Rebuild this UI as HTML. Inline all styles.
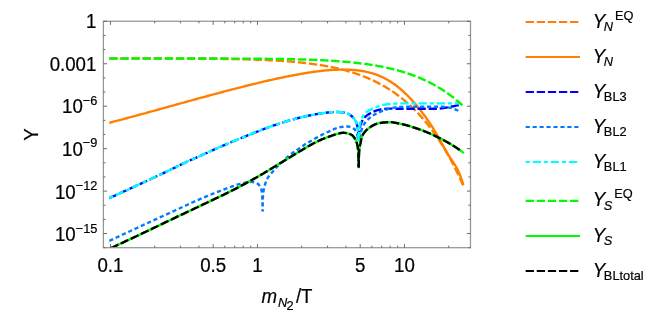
<!DOCTYPE html>
<html><head><meta charset="utf-8"><title>Y vs m_N2/T</title>
<style>html,body{margin:0;padding:0;background:#fff}body{width:654px;height:314px;position:relative;overflow:hidden}</style>
</head><body>
<svg width="654" height="314" viewBox="0 0 654 314" style="position:absolute;left:0;top:0;will-change:transform">
<defs><clipPath id="cp"><rect x="103.5" y="21.3" width="367" height="226.4"/></clipPath></defs>
<g clip-path="url(#cp)" fill="none" stroke-width="2.4" stroke-linejoin="bevel" stroke-linecap="square">
<path d="M110.45,58.47 L111.45,58.47 L112.45,58.47 L113.45,58.47 L114.45,58.47 L115.45,58.47 L116.45,58.47 L117.45,58.47 L118.45,58.47 L119.45,58.47 L120.45,58.47 L121.45,58.47 L122.45,58.47 L123.45,58.47 L124.45,58.47 L125.45,58.47 L126.45,58.48 L127.45,58.48 L128.45,58.48 L129.45,58.48 L130.45,58.48 L131.45,58.48 L132.45,58.48 L133.45,58.48 L134.45,58.48 L135.45,58.48 L136.45,58.48 L137.45,58.49 L138.45,58.49 L139.45,58.49 L140.45,58.49 L141.45,58.49 L142.45,58.49 L143.45,58.49 L144.45,58.49 L145.45,58.50 L146.45,58.50 L147.45,58.50 L148.45,58.50 L149.45,58.50 L150.45,58.50 L151.45,58.50 L152.45,58.51 L153.45,58.51 L154.45,58.51 L155.45,58.51 L156.45,58.51 L157.45,58.52 L158.45,58.52 L159.45,58.52 L160.45,58.52 L161.45,58.52 L162.45,58.53 L163.45,58.53 L164.45,58.53 L165.45,58.53 L166.45,58.54 L167.45,58.54 L168.45,58.54 L169.45,58.54 L170.45,58.55 L171.45,58.55 L172.45,58.55 L173.45,58.56 L174.45,58.56 L175.45,58.56 L176.45,58.57 L177.45,58.57 L178.45,58.57 L179.45,58.58 L180.45,58.58 L181.45,58.59 L182.45,58.59 L183.45,58.60 L184.45,58.60 L185.45,58.60 L186.45,58.61 L187.45,58.61 L188.45,58.62 L189.45,58.62 L190.45,58.63 L191.45,58.64 L192.45,58.64 L193.45,58.65 L194.45,58.65 L195.45,58.66 L196.45,58.67 L197.45,58.67 L198.45,58.68 L199.45,58.69 L200.45,58.69 L201.45,58.70 L202.45,58.71 L203.45,58.72 L204.45,58.72 L205.45,58.73 L206.45,58.74 L207.45,58.75 L208.45,58.76 L209.45,58.77 L210.45,58.78 L211.45,58.79 L212.45,58.80 L213.45,58.81 L214.45,58.82 L215.45,58.83 L216.45,58.84 L217.45,58.85 L218.45,58.87 L219.45,58.88 L220.45,58.89 L221.45,58.90 L222.45,58.92 L223.45,58.93 L224.45,58.95 L225.45,58.96 L226.45,58.98 L227.45,58.99 L228.45,59.01 L229.45,59.02 L230.45,59.04 L231.45,59.06 L232.45,59.08 L233.45,59.09 L234.45,59.11 L235.45,59.13 L236.45,59.15 L237.45,59.17 L238.45,59.19 L239.45,59.22 L240.45,59.24 L241.45,59.26 L242.45,59.29 L243.45,59.31 L244.45,59.33 L245.45,59.36 L246.45,59.39 L247.45,59.41 L248.45,59.44 L249.45,59.47 L250.45,59.50 L251.45,59.53 L252.45,59.56 L253.45,59.59 L254.45,59.62 L255.45,59.66 L256.45,59.69 L257.45,59.73 L258.45,59.76 L259.45,59.80 L260.45,59.84 L261.45,59.88 L262.45,59.92 L263.45,59.96 L264.45,60.00 L265.45,60.04 L266.45,60.09 L267.45,60.13 L268.45,60.18 L269.45,60.23 L270.45,60.28 L271.45,60.33 L272.45,60.38 L273.45,60.43 L274.45,60.49 L275.45,60.54 L276.45,60.60 L277.45,60.66 L278.45,60.72 L279.45,60.78 L280.45,60.84 L281.45,60.91 L282.45,60.97 L283.45,61.04 L284.45,61.11 L285.45,61.18 L286.45,61.26 L287.45,61.33 L288.45,61.41 L289.45,61.49 L290.45,61.57 L291.45,61.65 L292.45,61.73 L293.45,61.82 L294.45,61.91 L295.45,62.00 L296.45,62.09 L297.45,62.19 L298.45,62.29 L299.45,62.39 L300.45,62.49 L301.45,62.59 L302.45,62.70 L303.45,62.81 L304.45,62.92 L305.45,63.03 L306.45,63.15 L307.45,63.27 L308.45,63.39 L309.45,63.52 L310.45,63.65 L311.45,63.78 L312.45,63.91 L313.45,64.05 L314.45,64.19 L315.45,64.33 L316.45,64.48 L317.45,64.63 L318.45,64.78 L319.45,64.94 L320.45,65.10 L321.45,65.26 L322.45,65.43 L323.45,65.60 L324.45,65.77 L325.45,65.95 L326.45,66.13 L327.45,66.32 L328.45,66.51 L329.45,66.70 L330.45,66.90 L331.45,67.10 L332.45,67.31 L333.45,67.52 L334.45,67.74 L335.45,67.96 L336.45,68.18 L337.45,68.41 L338.45,68.65 L339.45,68.88 L340.45,69.13 L341.45,69.38 L342.45,69.63 L343.45,69.89 L344.45,70.16 L345.45,70.43 L346.45,70.71 L347.45,70.99 L348.45,71.27 L349.45,71.57 L350.45,71.87 L351.45,72.17 L352.45,72.48 L353.45,72.80 L354.45,73.13 L355.45,73.46 L356.45,73.79 L357.45,74.14 L358.45,74.49 L359.45,74.85 L360.45,75.21 L361.45,75.58 L362.45,75.96 L363.45,76.35 L364.45,76.75 L365.45,77.15 L366.45,77.56 L367.45,77.97 L368.45,78.40 L369.45,78.84 L370.45,79.28 L371.45,79.73 L372.45,80.19 L373.45,80.66 L374.45,81.13 L375.45,81.62 L376.45,82.12 L377.45,82.62 L378.45,83.14 L379.45,83.66 L380.45,84.20 L381.45,84.74 L382.45,85.29 L383.45,85.86 L384.45,86.44 L385.45,87.02 L386.45,87.62 L387.45,88.23 L388.45,88.85 L389.45,89.48 L390.45,90.12 L391.45,90.77 L392.45,91.44 L393.45,92.12 L394.45,92.81 L395.45,93.52 L396.45,94.23 L397.45,94.96 L398.45,95.70 L399.45,96.46 L400.45,97.23 L401.45,98.01 L402.45,98.81 L403.45,99.63 L404.45,100.45 L405.45,101.29 L406.45,102.15 L407.45,103.02 L408.45,103.91 L409.45,104.82 L410.45,105.74 L411.45,106.67 L412.45,107.63 L413.45,108.60 L414.45,109.58 L415.45,110.59 L416.45,111.61 L417.45,112.65 L418.45,113.71 L419.45,114.78 L420.45,115.88 L421.45,116.99 L422.45,118.13 L423.45,119.28 L424.45,120.46 L425.45,121.65 L426.45,122.87 L427.45,124.11 L428.45,125.36 L429.45,126.64 L430.45,127.95 L431.45,129.27 L432.45,130.62 L433.45,131.99 L434.45,133.38 L435.45,134.80 L436.45,136.24 L437.45,137.71 L438.45,139.20 L439.45,140.72 L440.45,142.27 L441.45,143.84 L442.45,145.43 L443.45,147.06 L444.45,148.71 L445.45,150.39 L446.45,152.10 L447.45,153.84 L448.45,155.60 L449.45,157.40 L450.45,159.23 L451.45,161.08 L452.45,162.97 L453.45,164.90 L454.45,166.85 L455.45,168.84 L456.45,170.86 L457.45,172.91 L458.45,175.00 L459.45,177.12 L460.45,179.28 L461.45,181.48 L462.45,183.71 L462.95,184.83" stroke="#ff8000" stroke-dasharray="5.9 5.2"/>
<path d="M110.45,122.50 L111.45,122.24 L112.45,121.98 L113.45,121.71 L114.45,121.45 L115.45,121.18 L116.45,120.92 L117.45,120.65 L118.45,120.39 L119.45,120.12 L120.45,119.85 L121.45,119.59 L122.45,119.32 L123.45,119.05 L124.45,118.78 L125.45,118.52 L126.45,118.25 L127.45,117.98 L128.45,117.71 L129.45,117.44 L130.45,117.17 L131.45,116.90 L132.45,116.62 L133.45,116.35 L134.45,116.08 L135.45,115.81 L136.45,115.54 L137.45,115.27 L138.45,114.99 L139.45,114.72 L140.45,114.45 L141.45,114.17 L142.45,113.90 L143.45,113.63 L144.45,113.35 L145.45,113.08 L146.45,112.80 L147.45,112.53 L148.45,112.25 L149.45,111.98 L150.45,111.70 L151.45,111.43 L152.45,111.15 L153.45,110.88 L154.45,110.60 L155.45,110.32 L156.45,110.05 L157.45,109.77 L158.45,109.50 L159.45,109.22 L160.45,108.94 L161.45,108.67 L162.45,108.39 L163.45,108.11 L164.45,107.84 L165.45,107.56 L166.45,107.28 L167.45,107.01 L168.45,106.73 L169.45,106.45 L170.45,106.18 L171.45,105.90 L172.45,105.62 L173.45,105.35 L174.45,105.07 L175.45,104.79 L176.45,104.52 L177.45,104.24 L178.45,103.96 L179.45,103.69 L180.45,103.41 L181.45,103.14 L182.45,102.86 L183.45,102.58 L184.45,102.31 L185.45,102.03 L186.45,101.76 L187.45,101.48 L188.45,101.21 L189.45,100.93 L190.45,100.66 L191.45,100.38 L192.45,100.11 L193.45,99.83 L194.45,99.56 L195.45,99.28 L196.45,99.01 L197.45,98.74 L198.45,98.46 L199.45,98.19 L200.45,97.92 L201.45,97.64 L202.45,97.37 L203.45,97.10 L204.45,96.83 L205.45,96.56 L206.45,96.28 L207.45,96.01 L208.45,95.74 L209.45,95.47 L210.45,95.20 L211.45,94.93 L212.45,94.66 L213.45,94.40 L214.45,94.13 L215.45,93.86 L216.45,93.59 L217.45,93.32 L218.45,93.06 L219.45,92.79 L220.45,92.52 L221.45,92.26 L222.45,91.99 L223.45,91.73 L224.45,91.46 L225.45,91.20 L226.45,90.93 L227.45,90.67 L228.45,90.41 L229.45,90.15 L230.45,89.88 L231.45,89.62 L232.45,89.36 L233.45,89.10 L234.45,88.84 L235.45,88.58 L236.45,88.33 L237.45,88.07 L238.45,87.81 L239.45,87.55 L240.45,87.30 L241.45,87.04 L242.45,86.79 L243.45,86.54 L244.45,86.28 L245.45,86.03 L246.45,85.78 L247.45,85.53 L248.45,85.28 L249.45,85.03 L250.45,84.78 L251.45,84.54 L252.45,84.29 L253.45,84.05 L254.45,83.80 L255.45,83.56 L256.45,83.32 L257.45,83.08 L258.45,82.84 L259.45,82.60 L260.45,82.36 L261.45,82.12 L262.45,81.89 L263.45,81.65 L264.45,81.42 L265.45,81.19 L266.45,80.96 L267.45,80.73 L268.45,80.50 L269.45,80.27 L270.45,80.05 L271.45,79.82 L272.45,79.60 L273.45,79.38 L274.45,79.16 L275.45,78.94 L276.45,78.72 L277.45,78.50 L278.45,78.29 L279.45,78.08 L280.45,77.86 L281.45,77.65 L282.45,77.45 L283.45,77.24 L284.45,77.03 L285.45,76.83 L286.45,76.63 L287.45,76.43 L288.45,76.23 L289.45,76.03 L290.45,75.83 L291.45,75.64 L292.45,75.45 L293.45,75.26 L294.45,75.07 L295.45,74.88 L296.45,74.70 L297.45,74.51 L298.45,74.33 L299.45,74.15 L300.45,73.98 L301.45,73.80 L302.45,73.63 L303.45,73.46 L304.45,73.29 L305.45,73.12 L306.45,72.96 L307.45,72.80 L308.45,72.64 L309.45,72.48 L310.45,72.33 L311.45,72.18 L312.45,72.03 L313.45,71.89 L314.45,71.75 L315.45,71.61 L316.45,71.48 L317.45,71.35 L318.45,71.22 L319.45,71.10 L320.45,70.98 L321.45,70.87 L322.45,70.76 L323.45,70.65 L324.45,70.55 L325.45,70.45 L326.45,70.36 L327.45,70.27 L328.45,70.19 L329.45,70.11 L330.45,70.04 L331.45,69.97 L332.45,69.91 L333.45,69.85 L334.45,69.80 L335.45,69.75 L336.45,69.71 L337.45,69.68 L338.45,69.65 L339.45,69.63 L340.45,69.61 L341.45,69.60 L342.45,69.59 L343.45,69.60 L344.45,69.60 L345.45,69.62 L346.45,69.64 L347.45,69.67 L348.45,69.71 L349.45,69.75 L350.45,69.80 L351.45,69.85 L352.45,69.92 L353.45,69.99 L354.45,70.07 L355.45,70.16 L356.45,70.26 L357.45,70.37 L358.45,70.49 L359.45,70.62 L360.45,70.76 L361.45,70.91 L362.45,71.07 L363.45,71.24 L364.45,71.43 L365.45,71.62 L366.45,71.83 L367.45,72.06 L368.45,72.29 L369.45,72.54 L370.45,72.81 L371.45,73.09 L372.45,73.38 L373.45,73.69 L374.45,74.01 L375.45,74.35 L376.45,74.71 L377.45,75.08 L378.45,75.47 L379.45,75.88 L380.45,76.31 L381.45,76.75 L382.45,77.21 L383.45,77.69 L384.45,78.19 L385.45,78.71 L386.45,79.25 L387.45,79.81 L388.45,80.39 L389.45,80.99 L390.45,81.61 L391.45,82.26 L392.45,82.92 L393.45,83.61 L394.45,84.32 L395.45,85.05 L396.45,85.80 L397.45,86.57 L398.45,87.36 L399.45,88.18 L400.45,89.02 L401.45,89.87 L402.45,90.75 L403.45,91.66 L404.45,92.58 L405.45,93.52 L406.45,94.49 L407.45,95.48 L408.45,96.48 L409.45,97.52 L410.45,98.57 L411.45,99.64 L412.45,100.74 L413.45,101.85 L414.45,102.99 L415.45,104.15 L416.45,105.33 L417.45,106.53 L418.45,107.76 L419.45,109.00 L420.45,110.27 L421.45,111.55 L422.45,112.86 L423.45,114.18 L424.45,115.53 L425.45,116.90 L426.45,118.28 L427.45,119.70 L428.45,121.13 L429.45,122.60 L430.45,124.10 L431.45,125.64 L432.45,127.22 L433.45,128.84 L434.45,130.50 L435.45,132.20 L436.45,133.93 L437.45,135.69 L438.45,137.47 L439.45,139.26 L440.45,141.06 L441.45,142.87 L442.45,144.66 L443.45,146.45 L444.45,148.22 L445.45,149.96 L446.45,151.67 L447.45,153.35 L448.45,154.99 L449.45,156.57 L450.45,158.10 L451.45,159.59 L452.45,161.06 L453.45,162.56 L454.45,164.10 L455.45,165.73 L456.45,167.48 L457.45,169.37 L458.45,171.45 L459.45,173.74 L460.45,176.28 L461.45,179.09 L462.45,182.21 L462.95,183.90" stroke="#ff8000"/>
<path d="M110.45,197.60 L110.95,197.37 L111.45,197.15 L111.95,196.92 L112.45,196.69 L112.95,196.47 L113.45,196.24 L113.95,196.01 L114.45,195.79 L114.95,195.56 L115.45,195.33 L115.95,195.11 L116.45,194.88 L116.95,194.65 L117.45,194.42 L117.95,194.20 L118.45,193.97 L118.95,193.74 L119.45,193.51 L119.95,193.28 L120.45,193.06 L120.95,192.83 L121.45,192.60 L121.95,192.37 L122.45,192.14 L122.95,191.91 L123.45,191.68 L123.95,191.45 L124.45,191.23 L124.95,191.00 L125.45,190.77 L125.95,190.54 L126.45,190.31 L126.95,190.08 L127.45,189.85 L127.95,189.62 L128.45,189.39 L128.95,189.16 L129.45,188.93 L129.95,188.70 L130.45,188.47 L130.95,188.24 L131.45,188.01 L131.95,187.78 L132.45,187.55 L132.95,187.32 L133.45,187.09 L133.95,186.85 L134.45,186.62 L134.95,186.39 L135.45,186.16 L135.95,185.93 L136.45,185.70 L136.95,185.47 L137.45,185.24 L137.95,185.00 L138.45,184.77 L138.95,184.54 L139.45,184.31 L139.95,184.08 L140.45,183.85 L140.95,183.61 L141.45,183.38 L141.95,183.15 L142.45,182.92 L142.95,182.68 L143.45,182.45 L143.95,182.22 L144.45,181.99 L144.95,181.75 L145.45,181.52 L145.95,181.29 L146.45,181.05 L146.95,180.82 L147.45,180.59 L147.95,180.35 L148.45,180.12 L148.95,179.89 L149.45,179.65 L149.95,179.42 L150.45,179.19 L150.95,178.95 L151.45,178.72 L151.95,178.49 L152.45,178.25 L152.95,178.02 L153.45,177.78 L153.95,177.55 L154.45,177.32 L154.95,177.08 L155.45,176.85 L155.95,176.61 L156.45,176.38 L156.95,176.14 L157.45,175.91 L157.95,175.67 L158.45,175.44 L158.95,175.20 L159.45,174.97 L159.95,174.73 L160.45,174.50 L160.95,174.26 L161.45,174.03 L161.95,173.79 L162.45,173.56 L162.95,173.32 L163.45,173.09 L163.95,172.85 L164.45,172.61 L164.95,172.38 L165.45,172.14 L165.95,171.90 L166.45,171.66 L166.95,171.42 L167.45,171.18 L167.95,170.94 L168.45,170.70 L168.95,170.46 L169.45,170.22 L169.95,169.98 L170.45,169.73 L170.95,169.49 L171.45,169.25 L171.95,169.01 L172.45,168.76 L172.95,168.52 L173.45,168.28 L173.95,168.04 L174.45,167.79 L174.95,167.55 L175.45,167.31 L175.95,167.06 L176.45,166.82 L176.95,166.58 L177.45,166.34 L177.95,166.09 L178.45,165.85 L178.95,165.61 L179.45,165.37 L179.95,165.13 L180.45,164.89 L180.95,164.65 L181.45,164.41 L181.95,164.17 L182.45,163.93 L182.95,163.69 L183.45,163.45 L183.95,163.22 L184.45,162.98 L184.95,162.74 L185.45,162.51 L185.95,162.27 L186.45,162.04 L186.95,161.81 L187.45,161.57 L187.95,161.34 L188.45,161.11 L188.95,160.88 L189.45,160.65 L189.95,160.42 L190.45,160.20 L190.95,159.97 L191.45,159.75 L191.95,159.53 L192.45,159.30 L192.95,159.08 L193.45,158.87 L193.95,158.65 L194.45,158.43 L194.95,158.21 L195.45,158.00 L195.95,157.78 L196.45,157.56 L196.95,157.34 L197.45,157.13 L197.95,156.91 L198.45,156.69 L198.95,156.47 L199.45,156.25 L199.95,156.02 L200.45,155.80 L200.95,155.57 L201.45,155.34 L201.95,155.12 L202.45,154.89 L202.95,154.66 L203.45,154.43 L203.95,154.20 L204.45,153.97 L204.95,153.74 L205.45,153.50 L205.95,153.27 L206.45,153.04 L206.95,152.81 L207.45,152.58 L207.95,152.35 L208.45,152.12 L208.95,151.89 L209.45,151.66 L209.95,151.43 L210.45,151.20 L210.95,150.97 L211.45,150.75 L211.95,150.52 L212.45,150.30 L212.95,150.07 L213.45,149.85 L213.95,149.63 L214.45,149.41 L214.95,149.18 L215.45,148.96 L215.95,148.74 L216.45,148.52 L216.95,148.30 L217.45,148.08 L217.95,147.86 L218.45,147.64 L218.95,147.42 L219.45,147.20 L219.95,146.98 L220.45,146.76 L220.95,146.54 L221.45,146.33 L221.95,146.11 L222.45,145.89 L222.95,145.68 L223.45,145.46 L223.95,145.25 L224.45,145.03 L224.95,144.82 L225.45,144.61 L225.95,144.40 L226.45,144.18 L226.95,143.97 L227.45,143.76 L227.95,143.55 L228.45,143.34 L228.95,143.12 L229.45,142.91 L229.95,142.70 L230.45,142.49 L230.95,142.28 L231.45,142.07 L231.95,141.86 L232.45,141.65 L232.95,141.44 L233.45,141.23 L233.95,141.03 L234.45,140.82 L234.95,140.61 L235.45,140.40 L235.95,140.19 L236.45,139.99 L236.95,139.78 L237.45,139.57 L237.95,139.37 L238.45,139.16 L238.95,138.96 L239.45,138.75 L239.95,138.55 L240.45,138.34 L240.95,138.14 L241.45,137.93 L241.95,137.73 L242.45,137.53 L242.95,137.32 L243.45,137.12 L243.95,136.92 L244.45,136.72 L244.95,136.52 L245.45,136.31 L245.95,136.11 L246.45,135.91 L246.95,135.71 L247.45,135.51 L247.95,135.31 L248.45,135.11 L248.95,134.92 L249.45,134.72 L249.95,134.52 L250.45,134.32 L250.95,134.12 L251.45,133.93 L251.95,133.73 L252.45,133.53 L252.95,133.33 L253.45,133.13 L253.95,132.93 L254.45,132.73 L254.95,132.53 L255.45,132.33 L255.95,132.14 L256.45,131.94 L256.95,131.74 L257.45,131.54 L257.95,131.34 L258.45,131.14 L258.95,130.95 L259.45,130.75 L259.95,130.55 L260.45,130.35 L260.95,130.16 L261.45,129.96 L261.95,129.77 L262.45,129.57 L262.95,129.38 L263.45,129.19 L263.95,128.99 L264.45,128.80 L264.95,128.61 L265.45,128.42 L265.95,128.23 L266.45,128.04 L266.95,127.86 L267.45,127.67 L267.95,127.49 L268.45,127.30 L268.95,127.12 L269.45,126.94 L269.95,126.75 L270.45,126.57 L270.95,126.40 L271.45,126.22 L271.95,126.04 L272.45,125.87 L272.95,125.70 L273.45,125.52 L273.95,125.35 L274.45,125.18 L274.95,125.02 L275.45,124.85 L275.95,124.68 L276.45,124.52 L276.95,124.35 L277.45,124.19 L277.95,124.02 L278.45,123.86 L278.95,123.70 L279.45,123.53 L279.95,123.37 L280.45,123.21 L280.95,123.05 L281.45,122.89 L281.95,122.73 L282.45,122.57 L282.95,122.41 L283.45,122.25 L283.95,122.09 L284.45,121.94 L284.95,121.78 L285.45,121.63 L285.95,121.47 L286.45,121.32 L286.95,121.17 L287.45,121.02 L287.95,120.87 L288.45,120.72 L288.95,120.57 L289.45,120.42 L289.95,120.27 L290.45,120.13 L290.95,119.98 L291.45,119.84 L291.95,119.70 L292.45,119.56 L292.95,119.42 L293.45,119.28 L293.95,119.14 L294.45,119.01 L294.95,118.88 L295.45,118.74 L295.95,118.61 L296.45,118.48 L296.95,118.35 L297.45,118.22 L297.95,118.10 L298.45,117.98 L298.95,117.85 L299.45,117.73 L299.95,117.61 L300.45,117.49 L300.95,117.38 L301.45,117.26 L301.95,117.14 L302.45,117.03 L302.95,116.91 L303.45,116.80 L303.95,116.69 L304.45,116.57 L304.95,116.46 L305.45,116.35 L305.95,116.24 L306.45,116.14 L306.95,116.03 L307.45,115.92 L307.95,115.82 L308.45,115.71 L308.95,115.61 L309.45,115.50 L309.95,115.40 L310.45,115.30 L310.95,115.20 L311.45,115.10 L311.95,115.01 L312.45,114.91 L312.95,114.81 L313.45,114.72 L313.95,114.63 L314.45,114.54 L314.95,114.44 L315.45,114.36 L315.95,114.27 L316.45,114.18 L316.95,114.09 L317.45,114.01 L317.95,113.93 L318.45,113.85 L318.95,113.76 L319.45,113.69 L319.95,113.61 L320.45,113.53 L320.95,113.45 L321.45,113.37 L321.95,113.30 L322.45,113.22 L322.95,113.14 L323.45,113.06 L323.95,112.99 L324.45,112.91 L324.95,112.84 L325.45,112.77 L325.95,112.71 L326.45,112.64 L326.95,112.58 L327.45,112.52 L327.95,112.47 L328.45,112.42 L328.95,112.38 L329.45,112.34 L329.95,112.30 L330.45,112.27 L330.95,112.24 L331.45,112.21 L331.95,112.18 L332.45,112.15 L332.95,112.12 L333.45,112.10 L333.95,112.07 L334.45,112.05 L334.95,112.04 L335.45,112.02 L335.95,112.01 L336.45,112.00 L336.95,112.00 L337.45,112.00 L337.95,112.01 L338.45,112.03 L338.95,112.05 L339.45,112.08 L339.95,112.11 L340.45,112.15 L340.95,112.19 L341.45,112.24 L341.95,112.29 L342.45,112.34 L342.95,112.39 L343.45,112.46 L343.95,112.54 L344.45,112.64 L344.95,112.76 L345.45,112.89 L345.95,113.04 L346.45,113.20 L346.95,113.37 L347.45,113.54 L347.95,113.74 L348.45,113.97 L348.95,114.23 L349.45,114.52 L349.95,114.84 L350.45,115.19 L350.95,115.55 L351.45,115.94 L351.95,116.36 L352.45,116.84 L352.95,117.37 L353.45,117.94 L353.95,118.56 L354.45,119.23 L354.95,119.98 L355.45,120.84 L355.95,121.79 L356.40,122.70 L356.75,123.71 L357.04,124.72 L357.30,125.73 L357.51,126.74 L357.69,127.75 L357.84,128.76 L357.97,129.78 L358.08,130.79 L358.18,131.80 L358.26,132.81 L358.32,133.82 L358.38,134.83 L358.43,135.84 L358.47,136.85 L358.50,137.86 L358.53,138.87 L358.56,139.88 L358.70,140.20" stroke="#0000ff" stroke-dasharray="5.9 5.2"/>
<path d="M358.70,140.20 L358.86,139.58 L358.89,138.57 L358.93,137.56 L358.97,136.55 L359.02,135.54 L359.08,134.53 L359.14,133.52 L359.22,132.51 L359.31,131.50 L359.42,130.49 L359.55,129.47 L359.71,128.46 L359.89,127.45 L360.10,126.44 L360.35,125.43 L360.64,124.42 L360.99,123.41 L361.90,121.42 L362.40,120.50 L362.90,119.67 L363.40,118.93 L363.90,118.30 L364.40,117.72 L364.90,117.20 L365.40,116.72 L365.90,116.28 L366.40,115.88 L366.90,115.49 L367.40,115.13 L367.90,114.78 L368.40,114.45 L368.90,114.14 L369.40,113.84 L369.90,113.54 L370.40,113.26 L370.90,112.98 L371.40,112.70 L371.90,112.43 L372.40,112.16 L372.90,111.91 L373.40,111.67 L373.90,111.44 L374.40,111.23 L374.90,111.04 L375.40,110.86 L375.90,110.68 L376.40,110.52 L376.90,110.36 L377.40,110.20 L377.90,110.06 L378.40,109.93 L378.90,109.81 L379.40,109.71 L379.90,109.62 L380.40,109.54 L380.90,109.46 L381.40,109.39 L381.90,109.31 L382.40,109.24 L382.90,109.17 L383.40,109.10 L383.90,109.04 L384.40,108.97 L384.90,108.92 L385.40,108.86 L385.90,108.81 L386.40,108.77 L386.90,108.73 L387.40,108.69 L387.90,108.66 L388.40,108.64 L388.90,108.62 L389.40,108.61 L389.90,108.60 L390.40,108.60 L390.90,108.60 L391.40,108.61 L391.90,108.61 L392.40,108.61 L392.90,108.62 L393.40,108.63 L393.90,108.63 L394.40,108.64 L394.90,108.65 L395.40,108.66 L395.90,108.66 L396.40,108.67 L396.90,108.68 L397.40,108.68 L397.90,108.69 L398.40,108.69 L398.90,108.70 L399.40,108.70 L399.90,108.70 L400.40,108.70 L400.90,108.70 L401.40,108.70 L401.90,108.70 L402.40,108.70 L402.90,108.70 L403.40,108.70 L403.90,108.70 L404.40,108.70 L404.90,108.70 L405.40,108.70 L405.90,108.70 L406.40,108.70 L406.90,108.70 L407.40,108.70 L407.90,108.70 L408.40,108.70 L408.90,108.70 L409.40,108.70 L409.90,108.70 L410.40,108.70 L410.90,108.70 L411.40,108.70 L411.90,108.70 L412.40,108.70 L412.90,108.70 L413.40,108.70 L413.90,108.70 L414.40,108.70 L414.90,108.70 L415.40,108.70 L415.90,108.70 L416.40,108.70 L416.90,108.70 L417.40,108.70 L417.90,108.70 L418.40,108.70 L418.90,108.70 L419.40,108.70 L419.90,108.70 L420.40,108.70 L420.90,108.70 L421.40,108.70 L421.90,108.70 L422.40,108.70 L422.90,108.70 L423.40,108.70 L423.90,108.70 L424.40,108.70 L424.90,108.70 L425.40,108.70 L425.90,108.70 L426.40,108.70 L426.90,108.70 L427.40,108.70 L427.90,108.70 L428.40,108.70 L428.90,108.70 L429.40,108.70 L429.90,108.70 L430.40,108.70 L430.90,108.70 L431.40,108.70 L431.90,108.70 L432.40,108.70 L432.90,108.70 L433.40,108.70 L433.90,108.70 L434.40,108.70 L434.90,108.70 L435.40,108.70 L435.90,108.70 L436.40,108.70 L436.90,108.70 L437.40,108.70 L437.90,108.68 L438.40,108.66 L438.90,108.62 L439.40,108.58 L439.90,108.53 L440.40,108.47 L440.90,108.40 L441.40,108.34 L441.90,108.26 L442.40,108.19 L442.90,108.11 L443.40,108.04 L443.90,107.96 L444.40,107.89 L444.90,107.81 L445.40,107.74 L445.90,107.67 L446.40,107.59 L446.90,107.50 L447.40,107.41 L447.90,107.32 L448.40,107.23 L448.90,107.13 L449.40,107.04 L449.90,106.94 L450.40,106.84 L450.90,106.73 L451.40,106.63 L451.90,106.53 L452.40,106.42 L452.90,106.32 L453.40,106.22 L453.90,106.11 L454.40,106.01 L454.90,105.90 L455.40,105.79 L455.90,105.67 L456.40,105.56 L456.90,105.45 L457.40,105.33 L457.90,105.21 L458.40,105.10 L458.80,105.00" stroke="#0000ff" stroke-dasharray="5.9 5.2" stroke-dashoffset="8.49"/>
<path d="M110.45,240.30 L110.95,240.07 L111.45,239.83 L111.95,239.60 L112.45,239.37 L112.95,239.13 L113.45,238.90 L113.95,238.67 L114.45,238.43 L114.95,238.20 L115.45,237.97 L115.95,237.74 L116.45,237.50 L116.95,237.27 L117.45,237.04 L117.95,236.81 L118.45,236.57 L118.95,236.34 L119.45,236.11 L119.95,235.88 L120.45,235.64 L120.95,235.41 L121.45,235.18 L121.95,234.95 L122.45,234.71 L122.95,234.48 L123.45,234.25 L123.95,234.02 L124.45,233.78 L124.95,233.55 L125.45,233.32 L125.95,233.09 L126.45,232.86 L126.95,232.62 L127.45,232.39 L127.95,232.16 L128.45,231.93 L128.95,231.70 L129.45,231.47 L129.95,231.23 L130.45,231.00 L130.95,230.77 L131.45,230.54 L131.95,230.31 L132.45,230.08 L132.95,229.84 L133.45,229.61 L133.95,229.38 L134.45,229.15 L134.95,228.92 L135.45,228.69 L135.95,228.46 L136.45,228.22 L136.95,227.99 L137.45,227.76 L137.95,227.53 L138.45,227.30 L138.95,227.07 L139.45,226.84 L139.95,226.61 L140.45,226.38 L140.95,226.15 L141.45,225.91 L141.95,225.68 L142.45,225.45 L142.95,225.22 L143.45,224.99 L143.95,224.76 L144.45,224.53 L144.95,224.30 L145.45,224.07 L145.95,223.84 L146.45,223.61 L146.95,223.38 L147.45,223.15 L147.95,222.92 L148.45,222.69 L148.95,222.45 L149.45,222.22 L149.95,221.99 L150.45,221.76 L150.95,221.53 L151.45,221.30 L151.95,221.07 L152.45,220.84 L152.95,220.61 L153.45,220.38 L153.95,220.15 L154.45,219.92 L154.95,219.69 L155.45,219.46 L155.95,219.23 L156.45,219.00 L156.95,218.77 L157.45,218.54 L157.95,218.31 L158.45,218.08 L158.95,217.85 L159.45,217.62 L159.95,217.39 L160.45,217.16 L160.95,216.93 L161.45,216.70 L161.95,216.47 L162.45,216.24 L162.95,216.02 L163.45,215.79 L163.95,215.56 L164.45,215.33 L164.95,215.10 L165.45,214.87 L165.95,214.64 L166.45,214.41 L166.95,214.18 L167.45,213.95 L167.95,213.72 L168.45,213.49 L168.95,213.26 L169.45,213.03 L169.95,212.80 L170.45,212.57 L170.95,212.35 L171.45,212.12 L171.95,211.89 L172.45,211.66 L172.95,211.43 L173.45,211.20 L173.95,210.97 L174.45,210.74 L174.95,210.51 L175.45,210.28 L175.95,210.05 L176.45,209.83 L176.95,209.60 L177.45,209.37 L177.95,209.14 L178.45,208.91 L178.95,208.68 L179.45,208.45 L179.95,208.22 L180.45,207.99 L180.95,207.76 L181.45,207.53 L181.95,207.30 L182.45,207.07 L182.95,206.84 L183.45,206.61 L183.95,206.38 L184.45,206.15 L184.95,205.91 L185.45,205.68 L185.95,205.45 L186.45,205.22 L186.95,204.98 L187.45,204.75 L187.95,204.52 L188.45,204.29 L188.95,204.06 L189.45,203.82 L189.95,203.59 L190.45,203.36 L190.95,203.13 L191.45,202.90 L191.95,202.67 L192.45,202.45 L192.95,202.22 L193.45,201.99 L193.95,201.76 L194.45,201.54 L194.95,201.31 L195.45,201.09 L195.95,200.87 L196.45,200.64 L196.95,200.42 L197.45,200.20 L197.95,199.98 L198.45,199.77 L198.95,199.55 L199.45,199.34 L199.95,199.12 L200.45,198.91 L200.95,198.70 L201.45,198.48 L201.95,198.27 L202.45,198.06 L202.95,197.85 L203.45,197.64 L203.95,197.43 L204.45,197.22 L204.95,197.01 L205.45,196.80 L205.95,196.59 L206.45,196.38 L206.95,196.17 L207.45,195.96 L207.95,195.76 L208.45,195.55 L208.95,195.34 L209.45,195.14 L209.95,194.93 L210.45,194.73 L210.95,194.52 L211.45,194.32 L211.95,194.11 L212.45,193.91 L212.95,193.71 L213.45,193.51 L213.95,193.31 L214.45,193.10 L214.95,192.90 L215.45,192.70 L215.95,192.51 L216.45,192.31 L216.95,192.11 L217.45,191.91 L217.95,191.72 L218.45,191.52 L218.95,191.32 L219.45,191.13 L219.95,190.94 L220.45,190.74 L220.95,190.55 L221.45,190.36 L221.95,190.17 L222.45,189.98 L222.95,189.79 L223.45,189.60 L223.95,189.41 L224.45,189.22 L224.95,189.04 L225.45,188.85 L225.95,188.67 L226.45,188.48 L226.95,188.30 L227.45,188.12 L227.95,187.93 L228.45,187.75 L228.95,187.57 L229.45,187.40 L229.95,187.22 L230.45,187.04 L230.95,186.86 L231.45,186.68 L231.95,186.49 L232.45,186.31 L232.95,186.13 L233.45,185.95 L233.95,185.77 L234.45,185.59 L234.95,185.41 L235.45,185.24 L235.95,185.07 L236.45,184.90 L236.95,184.74 L237.45,184.59 L237.95,184.44 L238.45,184.30 L238.95,184.16 L239.45,184.03 L239.95,183.91 L240.45,183.80 L240.95,183.68 L241.45,183.56 L241.95,183.44 L242.45,183.31 L242.95,183.19 L243.45,183.07 L243.95,182.96 L244.45,182.84 L244.95,182.73 L245.45,182.62 L245.95,182.52 L246.45,182.42 L246.95,182.33 L247.45,182.25 L247.95,182.17 L248.45,182.10 L248.95,182.04 L249.45,181.99 L249.95,181.95 L250.45,181.92 L250.95,181.91 L251.45,181.90 L251.95,181.92 L252.45,181.96 L252.95,182.02 L253.45,182.12 L253.95,182.23 L254.45,182.37 L254.95,182.52 L255.45,182.70 L255.95,182.90 L256.45,183.12 L256.95,183.35 L257.45,183.60 L257.95,183.87 L258.45,184.25 L258.95,184.85 L259.45,185.63 L259.95,186.55 L260.45,187.56 L260.95,188.63 L261.40,189.60 L261.58,190.61 L261.74,191.62 L261.87,192.63 L261.98,193.64 L262.07,194.65 L262.15,195.66 L262.22,196.67 L262.28,197.69 L262.33,198.70 L262.37,199.71 L262.40,200.72 L262.43,201.73 L262.46,202.74 L262.48,203.75 L262.50,204.76 L262.51,205.77 L262.53,206.78 L262.54,207.79 L262.55,208.80 L262.56,209.81 L262.56,210.82 L262.60,211.30 L262.63,211.22 L262.64,210.21 L262.65,209.20 L262.66,208.19 L262.67,207.18 L262.68,206.17 L262.69,205.16 L262.71,204.15 L262.73,203.14 L262.75,202.13 L262.78,201.12 L262.81,200.11 L262.85,199.10 L262.90,198.09 L262.95,197.07 L263.01,196.06 L263.08,195.05 L263.17,194.04 L263.27,193.03 L263.39,192.02 L263.53,191.01 L264.20,187.76 L264.70,185.69 L265.20,183.91 L265.70,182.46 L266.20,181.17 L266.70,180.01 L267.20,178.95 L267.70,178.01 L268.20,177.16 L268.70,176.40 L269.20,175.71 L269.70,175.09 L270.20,174.51 L270.70,173.95 L271.20,173.41 L271.70,172.86 L272.20,172.28 L272.70,171.70 L273.20,171.12 L273.70,170.54 L274.20,169.96 L274.70,169.39 L275.20,168.83 L275.70,168.28 L276.20,167.74 L276.70,167.21 L277.20,166.70 L277.70,166.20 L278.20,165.71 L278.70,165.23 L279.20,164.77 L279.70,164.31 L280.20,163.85 L280.70,163.40 L281.20,162.94 L281.70,162.49 L282.20,162.04 L282.70,161.58 L283.20,161.11 L283.70,160.64 L284.20,160.16 L284.70,159.68 L285.20,159.19 L285.70,158.70 L286.20,158.22 L286.70,157.74 L287.20,157.26 L287.70,156.79 L288.20,156.34 L288.70,155.89 L289.20,155.46 L289.70,155.04 L290.20,154.64 L290.70,154.26 L291.20,153.88 L291.70,153.52 L292.20,153.16 L292.70,152.81 L293.20,152.47 L293.70,152.14 L294.20,151.81 L294.70,151.48 L295.20,151.16 L295.70,150.84 L296.20,150.52 L296.70,150.19 L297.20,149.87 L297.70,149.55 L298.20,149.22 L298.70,148.89 L299.20,148.55 L299.70,148.21 L300.20,147.86 L300.70,147.50 L301.20,147.13 L301.70,146.76 L302.20,146.39 L302.70,146.01 L303.20,145.65 L303.70,145.29 L304.20,144.93 L304.70,144.60 L305.20,144.27 L305.70,143.96 L306.20,143.66 L306.70,143.37 L307.20,143.08 L307.70,142.80 L308.20,142.51 L308.70,142.24 L309.20,141.95 L309.70,141.67 L310.20,141.38 L310.70,141.10 L311.20,140.80 L311.70,140.51 L312.20,140.22 L312.70,139.93 L313.20,139.63 L313.70,139.34 L314.20,139.05 L314.70,138.76 L315.20,138.47 L315.70,138.18 L316.20,137.89 L316.70,137.60 L317.20,137.32 L317.70,137.04 L318.20,136.77 L318.70,136.49 L319.20,136.22 L319.70,135.96 L320.20,135.70 L320.70,135.44 L321.20,135.18 L321.70,134.92 L322.20,134.67 L322.70,134.42 L323.20,134.16 L323.70,133.92 L324.20,133.67 L324.70,133.42 L325.20,133.18 L325.70,132.94 L326.20,132.71 L326.70,132.47 L327.20,132.24 L327.70,132.01 L328.20,131.79 L328.70,131.56 L329.20,131.34 L329.70,131.13 L330.20,130.91 L330.70,130.70 L331.20,130.47 L331.70,130.25 L332.20,130.02 L332.70,129.78 L333.20,129.55 L333.70,129.33 L334.20,129.10 L334.70,128.88 L335.20,128.67 L335.70,128.46 L336.20,128.26 L336.70,128.07 L337.20,127.90 L337.70,127.73 L338.20,127.59 L338.70,127.46 L339.20,127.34 L339.70,127.25 L340.20,127.17 L340.70,127.10 L341.20,127.03 L341.70,126.96 L342.20,126.90 L342.70,126.84 L343.20,126.78 L343.70,126.72 L344.20,126.67 L344.70,126.63 L345.20,126.59 L345.70,126.56 L346.20,126.53 L346.70,126.51 L347.20,126.50 L347.70,126.50 L348.20,126.52 L348.70,126.58 L349.20,126.67 L349.70,126.79 L350.20,126.93 L350.70,127.11 L351.20,127.31 L351.70,127.53 L352.20,127.78 L352.70,128.05 L353.20,128.35 L353.70,128.66 L354.20,128.99 L354.70,129.37 L355.20,129.99 L355.70,130.81 L356.20,131.75 L356.60,132.50 L356.92,133.51 L357.19,134.52 L357.42,135.53 L357.61,136.54 L357.78,137.55 L357.92,138.56 L358.04,139.57 L358.70,140.20" stroke="#007aff" stroke-dasharray="1.75 5.2"/>
<path d="M358.70,140.20 L359.37,139.59 L359.49,138.57 L359.63,137.56 L359.80,136.55 L359.99,135.54 L360.23,134.53 L360.50,133.52 L360.82,132.51 L361.70,129.35 L362.20,127.75 L362.70,126.58 L363.20,125.58 L363.70,124.70 L364.20,123.93 L364.70,123.22 L365.20,122.56 L365.70,121.92 L366.20,121.31 L366.70,120.74 L367.20,120.19 L367.70,119.68 L368.20,119.20 L368.70,118.74 L369.20,118.30 L369.70,117.88 L370.20,117.48 L370.70,117.09 L371.20,116.72 L371.70,116.36 L372.20,116.02 L372.70,115.69 L373.20,115.37 L373.70,115.06 L374.20,114.76 L374.70,114.47 L375.20,114.19 L375.70,113.92 L376.20,113.66 L376.70,113.40 L377.20,113.16 L377.70,112.92 L378.20,112.69 L378.70,112.46 L379.20,112.24 L379.70,112.03 L380.20,111.82 L380.70,111.61 L381.20,111.40 L381.70,111.20 L382.20,111.01 L382.70,110.81 L383.20,110.63 L383.70,110.45 L384.20,110.27 L384.70,110.10 L385.20,109.93 L385.70,109.77 L386.20,109.60 L386.70,109.44 L387.20,109.28 L387.70,109.12 L388.20,108.97 L388.70,108.82 L389.20,108.67 L389.70,108.53 L390.20,108.40 L390.70,108.28 L391.20,108.16 L391.70,108.06 L392.20,107.96 L392.70,107.87 L393.20,107.77 L393.70,107.68 L394.20,107.59 L394.70,107.49 L395.20,107.41 L395.70,107.32 L396.20,107.24 L396.70,107.17 L397.20,107.11 L397.70,107.05 L398.20,107.00 L398.70,106.96 L399.20,106.93 L399.70,106.91 L400.20,106.90 L400.70,106.89 L401.20,106.89 L401.70,106.88 L402.20,106.87 L402.70,106.87 L403.20,106.86 L403.70,106.86 L404.20,106.85 L404.70,106.85 L405.20,106.84 L405.70,106.84 L406.20,106.83 L406.70,106.83 L407.20,106.82 L407.70,106.82 L408.20,106.82 L408.70,106.81 L409.20,106.81 L409.70,106.80 L410.20,106.80 L410.70,106.79 L411.20,106.79 L411.70,106.79 L412.20,106.78 L412.70,106.78 L413.20,106.78 L413.70,106.77 L414.20,106.77 L414.70,106.77 L415.20,106.76 L415.70,106.76 L416.20,106.76 L416.70,106.76 L417.20,106.75 L417.70,106.75 L418.20,106.75 L418.70,106.75 L419.20,106.74 L419.70,106.74 L420.20,106.74 L420.70,106.74 L421.20,106.73 L421.70,106.73 L422.20,106.73 L422.70,106.73 L423.20,106.73 L423.70,106.72 L424.20,106.72 L424.70,106.72 L425.20,106.72 L425.70,106.72 L426.20,106.72 L426.70,106.72 L427.20,106.71 L427.70,106.71 L428.20,106.71 L428.70,106.71 L429.20,106.71 L429.70,106.71 L430.20,106.71 L430.70,106.71 L431.20,106.71 L431.70,106.71 L432.20,106.70 L432.70,106.70 L433.20,106.70 L433.70,106.70 L434.20,106.70 L434.70,106.70 L435.20,106.70 L435.70,106.70 L436.20,106.70 L436.70,106.70 L437.20,106.70 L437.70,106.70 L438.20,106.70 L438.70,106.70 L439.20,106.70 L439.70,106.70 L440.20,106.70 L440.70,106.71 L441.20,106.72 L441.70,106.74 L442.20,106.77 L442.70,106.81 L443.20,106.85 L443.70,106.89 L444.20,106.94 L444.70,107.00 L445.20,107.06 L445.70,107.13 L446.20,107.19 L446.70,107.27 L447.20,107.34 L447.70,107.42 L448.20,107.50 L448.70,107.58 L449.20,107.66 L449.70,107.75 L450.20,107.84 L450.70,107.93 L451.20,108.05 L451.70,108.18 L452.20,108.32 L452.70,108.47 L453.20,108.63 L453.70,108.81 L454.20,108.99 L454.70,109.18 L455.20,109.38 L455.70,109.59 L456.20,109.80 L456.70,110.02 L457.20,110.24 L457.70,110.46 L458.00,110.60" stroke="#007aff" stroke-dasharray="1.75 5.2" stroke-dashoffset="3.87"/>
<path d="M110.45,197.60 L110.95,197.37 L111.45,197.15 L111.95,196.92 L112.45,196.69 L112.95,196.47 L113.45,196.24 L113.95,196.01 L114.45,195.79 L114.95,195.56 L115.45,195.33 L115.95,195.11 L116.45,194.88 L116.95,194.65 L117.45,194.42 L117.95,194.20 L118.45,193.97 L118.95,193.74 L119.45,193.51 L119.95,193.28 L120.45,193.06 L120.95,192.83 L121.45,192.60 L121.95,192.37 L122.45,192.14 L122.95,191.91 L123.45,191.68 L123.95,191.45 L124.45,191.23 L124.95,191.00 L125.45,190.77 L125.95,190.54 L126.45,190.31 L126.95,190.08 L127.45,189.85 L127.95,189.62 L128.45,189.39 L128.95,189.16 L129.45,188.93 L129.95,188.70 L130.45,188.47 L130.95,188.24 L131.45,188.01 L131.95,187.78 L132.45,187.55 L132.95,187.32 L133.45,187.09 L133.95,186.85 L134.45,186.62 L134.95,186.39 L135.45,186.16 L135.95,185.93 L136.45,185.70 L136.95,185.47 L137.45,185.24 L137.95,185.00 L138.45,184.77 L138.95,184.54 L139.45,184.31 L139.95,184.08 L140.45,183.85 L140.95,183.61 L141.45,183.38 L141.95,183.15 L142.45,182.92 L142.95,182.68 L143.45,182.45 L143.95,182.22 L144.45,181.99 L144.95,181.75 L145.45,181.52 L145.95,181.29 L146.45,181.05 L146.95,180.82 L147.45,180.59 L147.95,180.35 L148.45,180.12 L148.95,179.89 L149.45,179.65 L149.95,179.42 L150.45,179.19 L150.95,178.95 L151.45,178.72 L151.95,178.49 L152.45,178.25 L152.95,178.02 L153.45,177.78 L153.95,177.55 L154.45,177.32 L154.95,177.08 L155.45,176.85 L155.95,176.61 L156.45,176.38 L156.95,176.14 L157.45,175.91 L157.95,175.67 L158.45,175.44 L158.95,175.20 L159.45,174.97 L159.95,174.73 L160.45,174.50 L160.95,174.26 L161.45,174.03 L161.95,173.79 L162.45,173.56 L162.95,173.32 L163.45,173.09 L163.95,172.85 L164.45,172.61 L164.95,172.38 L165.45,172.14 L165.95,171.90 L166.45,171.66 L166.95,171.42 L167.45,171.18 L167.95,170.94 L168.45,170.70 L168.95,170.46 L169.45,170.22 L169.95,169.98 L170.45,169.73 L170.95,169.49 L171.45,169.25 L171.95,169.01 L172.45,168.76 L172.95,168.52 L173.45,168.28 L173.95,168.04 L174.45,167.79 L174.95,167.55 L175.45,167.31 L175.95,167.06 L176.45,166.82 L176.95,166.58 L177.45,166.34 L177.95,166.09 L178.45,165.85 L178.95,165.61 L179.45,165.37 L179.95,165.13 L180.45,164.89 L180.95,164.65 L181.45,164.41 L181.95,164.17 L182.45,163.93 L182.95,163.69 L183.45,163.45 L183.95,163.22 L184.45,162.98 L184.95,162.74 L185.45,162.51 L185.95,162.27 L186.45,162.04 L186.95,161.81 L187.45,161.57 L187.95,161.34 L188.45,161.11 L188.95,160.88 L189.45,160.65 L189.95,160.42 L190.45,160.20 L190.95,159.97 L191.45,159.75 L191.95,159.53 L192.45,159.30 L192.95,159.08 L193.45,158.87 L193.95,158.65 L194.45,158.43 L194.95,158.21 L195.45,158.00 L195.95,157.78 L196.45,157.56 L196.95,157.34 L197.45,157.13 L197.95,156.91 L198.45,156.69 L198.95,156.47 L199.45,156.25 L199.95,156.02 L200.45,155.80 L200.95,155.57 L201.45,155.34 L201.95,155.12 L202.45,154.89 L202.95,154.66 L203.45,154.43 L203.95,154.20 L204.45,153.97 L204.95,153.74 L205.45,153.50 L205.95,153.27 L206.45,153.04 L206.95,152.81 L207.45,152.58 L207.95,152.35 L208.45,152.12 L208.95,151.89 L209.45,151.66 L209.95,151.43 L210.45,151.20 L210.95,150.97 L211.45,150.75 L211.95,150.52 L212.45,150.30 L212.95,150.07 L213.45,149.85 L213.95,149.63 L214.45,149.41 L214.95,149.18 L215.45,148.96 L215.95,148.74 L216.45,148.52 L216.95,148.30 L217.45,148.08 L217.95,147.86 L218.45,147.64 L218.95,147.42 L219.45,147.20 L219.95,146.98 L220.45,146.76 L220.95,146.54 L221.45,146.33 L221.95,146.11 L222.45,145.89 L222.95,145.68 L223.45,145.46 L223.95,145.25 L224.45,145.03 L224.95,144.82 L225.45,144.61 L225.95,144.40 L226.45,144.18 L226.95,143.97 L227.45,143.76 L227.95,143.55 L228.45,143.34 L228.95,143.12 L229.45,142.91 L229.95,142.70 L230.45,142.49 L230.95,142.28 L231.45,142.07 L231.95,141.86 L232.45,141.65 L232.95,141.44 L233.45,141.23 L233.95,141.03 L234.45,140.82 L234.95,140.61 L235.45,140.40 L235.95,140.19 L236.45,139.99 L236.95,139.78 L237.45,139.57 L237.95,139.37 L238.45,139.16 L238.95,138.96 L239.45,138.75 L239.95,138.55 L240.45,138.34 L240.95,138.14 L241.45,137.93 L241.95,137.73 L242.45,137.53 L242.95,137.32 L243.45,137.12 L243.95,136.92 L244.45,136.72 L244.95,136.52 L245.45,136.31 L245.95,136.11 L246.45,135.91 L246.95,135.71 L247.45,135.51 L247.95,135.31 L248.45,135.11 L248.95,134.92 L249.45,134.72 L249.95,134.52 L250.45,134.32 L250.95,134.12 L251.45,133.93 L251.95,133.73 L252.45,133.53 L252.95,133.33 L253.45,133.13 L253.95,132.93 L254.45,132.73 L254.95,132.53 L255.45,132.33 L255.95,132.14 L256.45,131.94 L256.95,131.74 L257.45,131.54 L257.95,131.34 L258.45,131.14 L258.95,130.95 L259.45,130.75 L259.95,130.55 L260.45,130.35 L260.95,130.16 L261.45,129.96 L261.95,129.77 L262.45,129.57 L262.95,129.38 L263.45,129.19 L263.95,128.99 L264.45,128.80 L264.95,128.61 L265.45,128.42 L265.95,128.23 L266.45,128.04 L266.95,127.86 L267.45,127.67 L267.95,127.49 L268.45,127.30 L268.95,127.12 L269.45,126.94 L269.95,126.75 L270.45,126.57 L270.95,126.40 L271.45,126.22 L271.95,126.04 L272.45,125.87 L272.95,125.70 L273.45,125.52 L273.95,125.35 L274.45,125.18 L274.95,125.02 L275.45,124.85 L275.95,124.68 L276.45,124.52 L276.95,124.35 L277.45,124.19 L277.95,124.02 L278.45,123.86 L278.95,123.70 L279.45,123.53 L279.95,123.37 L280.45,123.21 L280.95,123.05 L281.45,122.89 L281.95,122.73 L282.45,122.57 L282.95,122.41 L283.45,122.25 L283.95,122.09 L284.45,121.94 L284.95,121.78 L285.45,121.63 L285.95,121.47 L286.45,121.32 L286.95,121.17 L287.45,121.02 L287.95,120.87 L288.45,120.72 L288.95,120.57 L289.45,120.42 L289.95,120.27 L290.45,120.13 L290.95,119.98 L291.45,119.84 L291.95,119.70 L292.45,119.56 L292.95,119.42 L293.45,119.28 L293.95,119.14 L294.45,119.01 L294.95,118.88 L295.45,118.74 L295.95,118.61 L296.45,118.48 L296.95,118.35 L297.45,118.22 L297.95,118.10 L298.45,117.98 L298.95,117.85 L299.45,117.73 L299.95,117.61 L300.45,117.49 L300.95,117.38 L301.45,117.26 L301.95,117.14 L302.45,117.03 L302.95,116.91 L303.45,116.80 L303.95,116.69 L304.45,116.57 L304.95,116.46 L305.45,116.35 L305.95,116.24 L306.45,116.14 L306.95,116.03 L307.45,115.92 L307.95,115.82 L308.45,115.71 L308.95,115.61 L309.45,115.50 L309.95,115.40 L310.45,115.30 L310.95,115.20 L311.45,115.10 L311.95,115.01 L312.45,114.91 L312.95,114.81 L313.45,114.72 L313.95,114.63 L314.45,114.54 L314.95,114.44 L315.45,114.36 L315.95,114.27 L316.45,114.18 L316.95,114.09 L317.45,114.01 L317.95,113.93 L318.45,113.85 L318.95,113.76 L319.45,113.69 L319.95,113.61 L320.45,113.53 L320.95,113.45 L321.45,113.37 L321.95,113.30 L322.45,113.22 L322.95,113.14 L323.45,113.06 L323.95,112.99 L324.45,112.91 L324.95,112.84 L325.45,112.77 L325.95,112.71 L326.45,112.64 L326.95,112.58 L327.45,112.52 L327.95,112.47 L328.45,112.42 L328.95,112.38 L329.45,112.34 L329.95,112.30 L330.45,112.27 L330.95,112.24 L331.45,112.21 L331.95,112.18 L332.45,112.15 L332.95,112.12 L333.45,112.10 L333.95,112.07 L334.45,112.05 L334.95,112.04 L335.45,112.02 L335.95,112.01 L336.45,112.00 L336.95,112.00 L337.45,112.00 L337.95,112.01 L338.45,112.03 L338.95,112.05 L339.45,112.08 L339.95,112.11 L340.45,112.15 L340.95,112.19 L341.45,112.24 L341.95,112.29 L342.45,112.34 L342.95,112.39 L343.45,112.46 L343.95,112.54 L344.45,112.64 L344.95,112.76 L345.45,112.89 L345.95,113.04 L346.45,113.20 L346.95,113.37 L347.45,113.54 L347.95,113.74 L348.45,113.97 L348.95,114.23 L349.45,114.52 L349.95,114.84 L350.45,115.19 L350.95,115.55 L351.45,115.94 L351.95,116.36 L352.45,116.84 L352.95,117.37 L353.45,117.94 L353.95,118.56 L354.45,119.23 L354.95,119.98 L355.45,120.84 L355.95,121.79 L356.40,122.70 L356.75,123.71 L357.04,124.72 L357.30,125.73 L357.51,126.74 L357.69,127.75 L357.84,128.76 L357.97,129.78 L358.08,130.79 L358.18,131.80 L358.26,132.81 L358.32,133.82 L358.38,134.83 L358.43,135.84 L358.47,136.85 L358.50,137.86 L358.53,138.87 L358.56,139.88 L358.70,140.20" stroke="#00ffff" stroke-dasharray="1.8 5.2 5.95 5.25"/>
<path d="M358.70,140.20 L358.80,139.79 L358.82,138.78 L358.84,137.77 L358.86,136.76 L358.89,135.75 L358.92,134.74 L358.96,133.73 L359.01,132.72 L359.07,131.71 L359.13,130.70 L359.21,129.69 L359.30,128.67 L359.41,127.66 L359.53,126.65 L359.68,125.64 L359.86,124.63 L360.07,123.62 L360.31,122.61 L361.10,120.32 L361.60,119.13 L362.10,118.00 L362.60,116.89 L363.10,115.88 L363.60,115.04 L364.10,114.39 L364.60,113.80 L365.10,113.28 L365.60,112.80 L366.10,112.36 L366.60,111.96 L367.10,111.58 L367.60,111.23 L368.10,110.90 L368.60,110.60 L369.10,110.31 L369.60,110.04 L370.10,109.79 L370.60,109.54 L371.10,109.30 L371.60,109.06 L372.10,108.82 L372.60,108.60 L373.10,108.38 L373.60,108.17 L374.10,107.97 L374.60,107.76 L375.10,107.56 L375.60,107.35 L376.10,107.14 L376.60,106.93 L377.10,106.73 L377.60,106.52 L378.10,106.33 L378.60,106.14 L379.10,105.97 L379.60,105.81 L380.10,105.67 L380.60,105.54 L381.10,105.41 L381.60,105.29 L382.10,105.17 L382.60,105.06 L383.10,104.95 L383.60,104.84 L384.10,104.74 L384.60,104.65 L385.10,104.56 L385.60,104.48 L386.10,104.41 L386.60,104.35 L387.10,104.29 L387.60,104.24 L388.10,104.18 L388.60,104.13 L389.10,104.08 L389.60,104.03 L390.10,103.98 L390.60,103.93 L391.10,103.88 L391.60,103.83 L392.10,103.79 L392.60,103.75 L393.10,103.71 L393.60,103.67 L394.10,103.63 L394.60,103.60 L395.10,103.56 L395.60,103.53 L396.10,103.51 L396.60,103.48 L397.10,103.46 L397.60,103.44 L398.10,103.43 L398.60,103.41 L399.10,103.41 L399.60,103.40 L400.10,103.40 L400.60,103.40 L401.10,103.40 L401.60,103.40 L402.10,103.40 L402.60,103.40 L403.10,103.40 L403.60,103.40 L404.10,103.40 L404.60,103.40 L405.10,103.40 L405.60,103.40 L406.10,103.40 L406.60,103.40 L407.10,103.40 L407.60,103.40 L408.10,103.40 L408.60,103.40 L409.10,103.40 L409.60,103.40 L410.10,103.40 L410.60,103.40 L411.10,103.40 L411.60,103.40 L412.10,103.40 L412.60,103.40 L413.10,103.40 L413.60,103.40 L414.10,103.40 L414.60,103.40 L415.10,103.40 L415.60,103.40 L416.10,103.40 L416.60,103.40 L417.10,103.40 L417.60,103.40 L418.10,103.40 L418.60,103.40 L419.10,103.40 L419.60,103.40 L420.10,103.40 L420.60,103.40 L421.10,103.40 L421.60,103.40 L422.10,103.40 L422.60,103.40 L423.10,103.40 L423.60,103.40 L424.10,103.40 L424.60,103.40 L425.10,103.40 L425.60,103.40 L426.10,103.40 L426.60,103.40 L427.10,103.40 L427.60,103.40 L428.10,103.40 L428.60,103.40 L429.10,103.40 L429.60,103.40 L430.10,103.40 L430.60,103.40 L431.10,103.40 L431.60,103.40 L432.10,103.40 L432.60,103.40 L433.10,103.40 L433.60,103.40 L434.10,103.40 L434.60,103.40 L435.10,103.40 L435.60,103.40 L436.10,103.40 L436.60,103.40 L437.10,103.40 L437.60,103.40 L438.10,103.40 L438.60,103.40 L439.10,103.40 L439.60,103.40 L440.10,103.40 L440.60,103.40 L441.10,103.40 L441.60,103.40 L442.10,103.40 L442.60,103.40 L443.10,103.40 L443.60,103.40 L444.10,103.40 L444.60,103.40 L445.10,103.40 L445.60,103.40 L446.10,103.40 L446.60,103.40 L447.10,103.40 L447.60,103.40 L448.10,103.40 L448.60,103.40 L449.10,103.40 L449.60,103.40 L450.10,103.40 L450.60,103.40 L451.10,103.40 L451.60,103.40 L452.10,103.40 L452.60,103.40 L453.10,103.40 L453.60,103.40 L454.10,103.40 L454.60,103.40 L455.10,103.40 L455.60,103.40 L456.10,103.40 L456.60,103.40 L457.10,103.40 L457.60,103.40 L458.10,103.40 L458.60,103.40 L458.80,103.40" stroke="#00ffff" stroke-dasharray="1.8 5.2 5.95 5.25" stroke-dashoffset="12.99"/>
<path d="M110.45,58.45 L111.45,58.45 L112.45,58.45 L113.45,58.45 L114.45,58.45 L115.45,58.45 L116.45,58.45 L117.45,58.45 L118.45,58.45 L119.45,58.45 L120.45,58.45 L121.45,58.45 L122.45,58.45 L123.45,58.45 L124.45,58.45 L125.45,58.45 L126.45,58.45 L127.45,58.46 L128.45,58.46 L129.45,58.46 L130.45,58.46 L131.45,58.46 L132.45,58.46 L133.45,58.46 L134.45,58.46 L135.45,58.46 L136.45,58.46 L137.45,58.46 L138.45,58.46 L139.45,58.46 L140.45,58.46 L141.45,58.46 L142.45,58.46 L143.45,58.46 L144.45,58.46 L145.45,58.46 L146.45,58.46 L147.45,58.46 L148.45,58.46 L149.45,58.46 L150.45,58.46 L151.45,58.46 L152.45,58.46 L153.45,58.46 L154.45,58.46 L155.45,58.46 L156.45,58.46 L157.45,58.46 L158.45,58.46 L159.45,58.46 L160.45,58.46 L161.45,58.46 L162.45,58.47 L163.45,58.47 L164.45,58.47 L165.45,58.47 L166.45,58.47 L167.45,58.47 L168.45,58.47 L169.45,58.47 L170.45,58.47 L171.45,58.47 L172.45,58.47 L173.45,58.47 L174.45,58.47 L175.45,58.47 L176.45,58.47 L177.45,58.47 L178.45,58.47 L179.45,58.48 L180.45,58.48 L181.45,58.48 L182.45,58.48 L183.45,58.48 L184.45,58.48 L185.45,58.48 L186.45,58.48 L187.45,58.48 L188.45,58.48 L189.45,58.48 L190.45,58.49 L191.45,58.49 L192.45,58.49 L193.45,58.49 L194.45,58.49 L195.45,58.49 L196.45,58.49 L197.45,58.49 L198.45,58.50 L199.45,58.50 L200.45,58.50 L201.45,58.50 L202.45,58.50 L203.45,58.50 L204.45,58.51 L205.45,58.51 L206.45,58.51 L207.45,58.51 L208.45,58.51 L209.45,58.51 L210.45,58.52 L211.45,58.52 L212.45,58.52 L213.45,58.52 L214.45,58.53 L215.45,58.53 L216.45,58.53 L217.45,58.53 L218.45,58.54 L219.45,58.54 L220.45,58.54 L221.45,58.54 L222.45,58.55 L223.45,58.55 L224.45,58.55 L225.45,58.56 L226.45,58.56 L227.45,58.56 L228.45,58.57 L229.45,58.57 L230.45,58.57 L231.45,58.58 L232.45,58.58 L233.45,58.59 L234.45,58.59 L235.45,58.59 L236.45,58.60 L237.45,58.60 L238.45,58.61 L239.45,58.61 L240.45,58.62 L241.45,58.62 L242.45,58.63 L243.45,58.63 L244.45,58.64 L245.45,58.64 L246.45,58.65 L247.45,58.66 L248.45,58.66 L249.45,58.67 L250.45,58.68 L251.45,58.68 L252.45,58.69 L253.45,58.70 L254.45,58.70 L255.45,58.71 L256.45,58.72 L257.45,58.73 L258.45,58.74 L259.45,58.75 L260.45,58.75 L261.45,58.76 L262.45,58.77 L263.45,58.78 L264.45,58.79 L265.45,58.80 L266.45,58.81 L267.45,58.83 L268.45,58.84 L269.45,58.85 L270.45,58.86 L271.45,58.87 L272.45,58.89 L273.45,58.90 L274.45,58.91 L275.45,58.93 L276.45,58.94 L277.45,58.95 L278.45,58.97 L279.45,58.98 L280.45,59.00 L281.45,59.02 L282.45,59.03 L283.45,59.05 L284.45,59.07 L285.45,59.09 L286.45,59.11 L287.45,59.12 L288.45,59.14 L289.45,59.16 L290.45,59.19 L291.45,59.21 L292.45,59.23 L293.45,59.25 L294.45,59.28 L295.45,59.30 L296.45,59.32 L297.45,59.35 L298.45,59.38 L299.45,59.40 L300.45,59.43 L301.45,59.46 L302.45,59.49 L303.45,59.52 L304.45,59.55 L305.45,59.58 L306.45,59.61 L307.45,59.64 L308.45,59.68 L309.45,59.71 L310.45,59.75 L311.45,59.78 L312.45,59.82 L313.45,59.86 L314.45,59.90 L315.45,59.94 L316.45,59.98 L317.45,60.03 L318.45,60.07 L319.45,60.11 L320.45,60.16 L321.45,60.21 L322.45,60.26 L323.45,60.31 L324.45,60.36 L325.45,60.41 L326.45,60.46 L327.45,60.52 L328.45,60.58 L329.45,60.63 L330.45,60.69 L331.45,60.76 L332.45,60.82 L333.45,60.88 L334.45,60.95 L335.45,61.01 L336.45,61.08 L337.45,61.15 L338.45,61.23 L339.45,61.30 L340.45,61.38 L341.45,61.45 L342.45,61.53 L343.45,61.62 L344.45,61.70 L345.45,61.79 L346.45,61.87 L347.45,61.96 L348.45,62.05 L349.45,62.15 L350.45,62.25 L351.45,62.34 L352.45,62.44 L353.45,62.55 L354.45,62.65 L355.45,62.76 L356.45,62.87 L357.45,62.99 L358.45,63.10 L359.45,63.22 L360.45,63.34 L361.45,63.47 L362.45,63.59 L363.45,63.72 L364.45,63.85 L365.45,63.99 L366.45,64.13 L367.45,64.27 L368.45,64.42 L369.45,64.56 L370.45,64.72 L371.45,64.87 L372.45,65.03 L373.45,65.19 L374.45,65.36 L375.45,65.53 L376.45,65.70 L377.45,65.88 L378.45,66.06 L379.45,66.24 L380.45,66.43 L381.45,66.62 L382.45,66.82 L383.45,67.02 L384.45,67.22 L385.45,67.43 L386.45,67.65 L387.45,67.87 L388.45,68.09 L389.45,68.32 L390.45,68.55 L391.45,68.79 L392.45,69.03 L393.45,69.28 L394.45,69.53 L395.45,69.79 L396.45,70.05 L397.45,70.32 L398.45,70.59 L399.45,70.87 L400.45,71.16 L401.45,71.45 L402.45,71.74 L403.45,72.05 L404.45,72.36 L405.45,72.67 L406.45,72.99 L407.45,73.32 L408.45,73.65 L409.45,74.00 L410.45,74.34 L411.45,74.70 L412.45,75.06 L413.45,75.43 L414.45,75.81 L415.45,76.19 L416.45,76.58 L417.45,76.98 L418.45,77.39 L419.45,77.80 L420.45,78.22 L421.45,78.65 L422.45,79.09 L423.45,79.54 L424.45,80.00 L425.45,80.46 L426.45,80.94 L427.45,81.42 L428.45,81.91 L429.45,82.41 L430.45,82.92 L431.45,83.44 L432.45,83.97 L433.45,84.51 L434.45,85.06 L435.45,85.63 L436.45,86.20 L437.45,86.78 L438.45,87.37 L439.45,87.97 L440.45,88.59 L441.45,89.22 L442.45,89.85 L443.45,90.50 L444.45,91.16 L445.45,91.84 L446.45,92.52 L447.45,93.22 L448.45,93.93 L449.45,94.66 L450.45,95.40 L451.45,96.15 L452.45,96.91 L453.45,97.69 L454.45,98.48 L455.45,99.29 L456.45,100.11 L457.45,100.95 L458.45,101.80 L459.45,102.66 L460.45,103.54 L461.45,104.44 L462.45,105.35 L462.95,105.81" stroke="#00fa00" stroke-dasharray="5.9 5.2"/>
<path d="M111.80,247.70 L112.30,247.47 L112.80,247.24 L113.30,247.00 L113.80,246.77 L114.30,246.54 L114.80,246.31 L115.30,246.07 L115.80,245.84 L116.30,245.61 L116.80,245.38 L117.30,245.14 L117.80,244.91 L118.30,244.68 L118.80,244.44 L119.30,244.21 L119.80,243.98 L120.30,243.75 L120.80,243.51 L121.30,243.28 L121.80,243.05 L122.30,242.81 L122.80,242.58 L123.30,242.34 L123.80,242.11 L124.30,241.88 L124.80,241.64 L125.30,241.41 L125.80,241.18 L126.30,240.94 L126.80,240.71 L127.30,240.47 L127.80,240.24 L128.30,240.01 L128.80,239.77 L129.30,239.54 L129.80,239.30 L130.30,239.07 L130.80,238.83 L131.30,238.60 L131.80,238.36 L132.30,238.13 L132.80,237.89 L133.30,237.66 L133.80,237.42 L134.30,237.19 L134.80,236.95 L135.30,236.72 L135.80,236.48 L136.30,236.25 L136.80,236.01 L137.30,235.77 L137.80,235.54 L138.30,235.30 L138.80,235.07 L139.30,234.83 L139.80,234.59 L140.30,234.36 L140.80,234.12 L141.30,233.89 L141.80,233.65 L142.30,233.41 L142.80,233.17 L143.30,232.94 L143.80,232.70 L144.30,232.46 L144.80,232.23 L145.30,231.99 L145.80,231.75 L146.30,231.51 L146.80,231.27 L147.30,231.04 L147.80,230.80 L148.30,230.56 L148.80,230.32 L149.30,230.08 L149.80,229.84 L150.30,229.60 L150.80,229.37 L151.30,229.13 L151.80,228.89 L152.30,228.65 L152.80,228.41 L153.30,228.17 L153.80,227.93 L154.30,227.69 L154.80,227.45 L155.30,227.21 L155.80,226.97 L156.30,226.73 L156.80,226.49 L157.30,226.25 L157.80,226.01 L158.30,225.78 L158.80,225.54 L159.30,225.30 L159.80,225.06 L160.30,224.82 L160.80,224.58 L161.30,224.34 L161.80,224.10 L162.30,223.86 L162.80,223.62 L163.30,223.38 L163.80,223.14 L164.30,222.90 L164.80,222.66 L165.30,222.42 L165.80,222.18 L166.30,221.94 L166.80,221.70 L167.30,221.46 L167.80,221.22 L168.30,220.98 L168.80,220.74 L169.30,220.50 L169.80,220.26 L170.30,220.02 L170.80,219.78 L171.30,219.55 L171.80,219.31 L172.30,219.07 L172.80,218.83 L173.30,218.59 L173.80,218.35 L174.30,218.11 L174.80,217.87 L175.30,217.64 L175.80,217.40 L176.30,217.16 L176.80,216.92 L177.30,216.68 L177.80,216.45 L178.30,216.21 L178.80,215.97 L179.30,215.73 L179.80,215.49 L180.30,215.26 L180.80,215.02 L181.30,214.78 L181.80,214.55 L182.30,214.31 L182.80,214.07 L183.30,213.84 L183.80,213.60 L184.30,213.37 L184.80,213.13 L185.30,212.90 L185.80,212.66 L186.30,212.43 L186.80,212.19 L187.30,211.96 L187.80,211.72 L188.30,211.49 L188.80,211.25 L189.30,211.02 L189.80,210.78 L190.30,210.55 L190.80,210.31 L191.30,210.08 L191.80,209.84 L192.30,209.61 L192.80,209.37 L193.30,209.14 L193.80,208.90 L194.30,208.67 L194.80,208.43 L195.30,208.20 L195.80,207.96 L196.30,207.73 L196.80,207.49 L197.30,207.26 L197.80,207.02 L198.30,206.78 L198.80,206.55 L199.30,206.31 L199.80,206.08 L200.30,205.84 L200.80,205.60 L201.30,205.36 L201.80,205.13 L202.30,204.89 L202.80,204.65 L203.30,204.41 L203.80,204.17 L204.30,203.93 L204.80,203.70 L205.30,203.46 L205.80,203.22 L206.30,202.98 L206.80,202.74 L207.30,202.50 L207.80,202.26 L208.30,202.02 L208.80,201.78 L209.30,201.55 L209.80,201.31 L210.30,201.07 L210.80,200.83 L211.30,200.59 L211.80,200.36 L212.30,200.12 L212.80,199.88 L213.30,199.64 L213.80,199.40 L214.30,199.16 L214.80,198.92 L215.30,198.69 L215.80,198.45 L216.30,198.21 L216.80,197.97 L217.30,197.73 L217.80,197.49 L218.30,197.25 L218.80,197.01 L219.30,196.77 L219.80,196.53 L220.30,196.29 L220.80,196.05 L221.30,195.81 L221.80,195.56 L222.30,195.32 L222.80,195.08 L223.30,194.84 L223.80,194.59 L224.30,194.35 L224.80,194.11 L225.30,193.86 L225.80,193.62 L226.30,193.37 L226.80,193.12 L227.30,192.88 L227.80,192.63 L228.30,192.38 L228.80,192.13 L229.30,191.89 L229.80,191.64 L230.30,191.39 L230.80,191.13 L231.30,190.88 L231.80,190.63 L232.30,190.38 L232.80,190.12 L233.30,189.87 L233.80,189.62 L234.30,189.36 L234.80,189.10 L235.30,188.85 L235.80,188.59 L236.30,188.33 L236.80,188.07 L237.30,187.81 L237.80,187.55 L238.30,187.29 L238.80,187.03 L239.30,186.77 L239.80,186.50 L240.30,186.24 L240.80,185.98 L241.30,185.71 L241.80,185.45 L242.30,185.18 L242.80,184.92 L243.30,184.65 L243.80,184.38 L244.30,184.11 L244.80,183.85 L245.30,183.58 L245.80,183.31 L246.30,183.04 L246.80,182.77 L247.30,182.49 L247.80,182.22 L248.30,181.95 L248.80,181.68 L249.30,181.40 L249.80,181.13 L250.30,180.85 L250.80,180.58 L251.30,180.30 L251.80,180.03 L252.30,179.75 L252.80,179.47 L253.30,179.19 L253.80,178.91 L254.30,178.63 L254.80,178.35 L255.30,178.07 L255.80,177.79 L256.30,177.51 L256.80,177.22 L257.30,176.94 L257.80,176.66 L258.30,176.37 L258.80,176.09 L259.30,175.80 L259.80,175.51 L260.30,175.23 L260.80,174.94 L261.30,174.65 L261.80,174.36 L262.30,174.06 L262.80,173.77 L263.30,173.47 L263.80,173.18 L264.30,172.88 L264.80,172.58 L265.30,172.28 L265.80,171.98 L266.30,171.68 L266.80,171.38 L267.30,171.07 L267.80,170.77 L268.30,170.47 L268.80,170.16 L269.30,169.86 L269.80,169.55 L270.30,169.24 L270.80,168.94 L271.30,168.63 L271.80,168.32 L272.30,168.02 L272.80,167.71 L273.30,167.40 L273.80,167.09 L274.30,166.78 L274.80,166.48 L275.30,166.17 L275.80,165.86 L276.30,165.56 L276.80,165.25 L277.30,164.94 L277.80,164.64 L278.30,164.33 L278.80,164.03 L279.30,163.72 L279.80,163.42 L280.30,163.12 L280.80,162.82 L281.30,162.51 L281.80,162.21 L282.30,161.91 L282.80,161.60 L283.30,161.30 L283.80,161.00 L284.30,160.69 L284.80,160.39 L285.30,160.08 L285.80,159.78 L286.30,159.48 L286.80,159.17 L287.30,158.87 L287.80,158.57 L288.30,158.26 L288.80,157.96 L289.30,157.65 L289.80,157.35 L290.30,157.05 L290.80,156.74 L291.30,156.44 L291.80,156.14 L292.30,155.83 L292.80,155.53 L293.30,155.23 L293.80,154.93 L294.30,154.62 L294.80,154.32 L295.30,154.02 L295.80,153.72 L296.30,153.42 L296.80,153.12 L297.30,152.82 L297.80,152.52 L298.30,152.22 L298.80,151.92 L299.30,151.62 L299.80,151.32 L300.30,151.02 L300.80,150.72 L301.30,150.42 L301.80,150.12 L302.30,149.82 L302.80,149.51 L303.30,149.21 L303.80,148.91 L304.30,148.61 L304.80,148.31 L305.30,148.01 L305.80,147.71 L306.30,147.41 L306.80,147.12 L307.30,146.83 L307.80,146.54 L308.30,146.25 L308.80,145.97 L309.30,145.69 L309.80,145.41 L310.30,145.14 L310.80,144.86 L311.30,144.59 L311.80,144.32 L312.30,144.05 L312.80,143.78 L313.30,143.51 L313.80,143.25 L314.30,142.98 L314.80,142.72 L315.30,142.46 L315.80,142.21 L316.30,141.96 L316.80,141.71 L317.30,141.46 L317.80,141.22 L318.30,140.98 L318.80,140.74 L319.30,140.51 L319.80,140.29 L320.30,140.07 L320.80,139.85 L321.30,139.64 L321.80,139.43 L322.30,139.22 L322.80,139.01 L323.30,138.81 L323.80,138.61 L324.30,138.41 L324.80,138.22 L325.30,138.03 L325.80,137.84 L326.30,137.65 L326.80,137.46 L327.30,137.27 L327.80,137.09 L328.30,136.91 L328.80,136.73 L329.30,136.55 L329.80,136.37 L330.30,136.19 L330.80,136.01 L331.30,135.83 L331.80,135.65 L332.30,135.48 L332.80,135.30 L333.30,135.12 L333.80,134.95 L334.30,134.79 L334.80,134.63 L335.30,134.47 L335.80,134.32 L336.30,134.18 L336.80,134.05 L337.30,133.92 L337.80,133.79 L338.30,133.66 L338.80,133.52 L339.30,133.39 L339.80,133.26 L340.30,133.15 L340.80,133.04 L341.30,132.95 L341.80,132.88 L342.30,132.83 L342.80,132.80 L343.30,132.80 L343.80,132.82 L344.30,132.86 L344.80,132.92 L345.30,132.98 L345.80,133.06 L346.30,133.15 L346.80,133.25 L347.30,133.35 L347.80,133.46 L348.30,133.58 L348.80,133.70 L349.30,133.85 L349.80,134.03 L350.30,134.24 L350.80,134.48 L351.30,134.74 L351.80,135.04 L352.30,135.37 L352.80,135.81 L353.30,136.37 L353.80,137.01 L354.30,137.71 L354.80,138.45 L355.30,139.28 L355.80,140.26 L356.30,141.46 L356.80,143.00 L357.09,144.01 L357.33,145.02 L357.54,146.03 L357.72,147.04 L357.87,148.05 L357.99,149.06 L358.10,150.07 L358.19,151.09 L358.27,152.10 L358.33,153.11 L358.39,154.12 L358.44,155.13 L358.48,156.14 L358.51,157.15 L358.54,158.16 L358.56,159.17 L358.58,160.18 L358.60,161.19 L358.62,162.20 L358.63,163.21 L358.64,164.22 L358.65,165.24 L358.66,166.25 L358.66,167.26 L358.70,168.10 L358.74,167.26 L358.74,166.25 L358.75,165.24 L358.76,164.22 L358.77,163.21 L358.78,162.20 L358.80,161.19 L358.82,160.18 L358.84,159.17 L358.86,158.16 L358.89,157.15 L358.92,156.14 L358.96,155.13 L359.01,154.12 L359.07,153.11 L359.13,152.10 L359.21,151.09 L359.30,150.07 L359.41,149.06 L359.53,148.05 L359.68,147.04 L359.86,146.03 L360.07,145.02 L360.31,144.01 L361.10,139.90 L361.60,137.52 L362.10,136.16 L362.60,135.11 L363.10,134.27 L363.60,133.55 L364.10,132.86 L364.60,132.21 L365.10,131.60 L365.60,131.03 L366.10,130.50 L366.60,130.01 L367.10,129.55 L367.60,129.11 L368.10,128.69 L368.60,128.29 L369.10,127.90 L369.60,127.52 L370.10,127.16 L370.60,126.82 L371.10,126.49 L371.60,126.18 L372.10,125.88 L372.60,125.61 L373.10,125.35 L373.60,125.10 L374.10,124.86 L374.60,124.62 L375.10,124.39 L375.60,124.18 L376.10,123.98 L376.60,123.80 L377.10,123.63 L377.60,123.49 L378.10,123.38 L378.60,123.27 L379.10,123.17 L379.60,123.08 L380.10,122.99 L380.60,122.90 L381.10,122.82 L381.60,122.75 L382.10,122.68 L382.60,122.62 L383.10,122.56 L383.60,122.51 L384.10,122.46 L384.60,122.43 L385.10,122.39 L385.60,122.36 L386.10,122.33 L386.60,122.31 L387.10,122.28 L387.60,122.26 L388.10,122.24 L388.60,122.22 L389.10,122.21 L389.60,122.20 L390.10,122.20 L390.60,122.21 L391.10,122.23 L391.60,122.26 L392.10,122.30 L392.60,122.36 L393.10,122.42 L393.60,122.48 L394.10,122.56 L394.60,122.64 L395.10,122.73 L395.60,122.82 L396.10,122.91 L396.60,123.01 L397.10,123.11 L397.60,123.22 L398.10,123.32 L398.60,123.42 L399.10,123.52 L399.60,123.62 L400.10,123.72 L400.60,123.82 L401.10,123.92 L401.60,124.03 L402.10,124.13 L402.60,124.25 L403.10,124.36 L403.60,124.48 L404.10,124.60 L404.60,124.73 L405.10,124.86 L405.60,124.99 L406.10,125.12 L406.60,125.26 L407.10,125.40 L407.60,125.54 L408.10,125.68 L408.60,125.83 L409.10,125.98 L409.60,126.13 L410.10,126.28 L410.60,126.44 L411.10,126.59 L411.60,126.75 L412.10,126.91 L412.60,127.07 L413.10,127.24 L413.60,127.40 L414.10,127.57 L414.60,127.73 L415.10,127.90 L415.60,128.07 L416.10,128.24 L416.60,128.42 L417.10,128.59 L417.60,128.76 L418.10,128.93 L418.60,129.11 L419.10,129.28 L419.60,129.46 L420.10,129.64 L420.60,129.81 L421.10,129.99 L421.60,130.18 L422.10,130.36 L422.60,130.55 L423.10,130.74 L423.60,130.93 L424.10,131.13 L424.60,131.32 L425.10,131.52 L425.60,131.73 L426.10,131.93 L426.60,132.14 L427.10,132.34 L427.60,132.55 L428.10,132.77 L428.60,132.98 L429.10,133.20 L429.60,133.42 L430.10,133.63 L430.60,133.86 L431.10,134.08 L431.60,134.30 L432.10,134.53 L432.60,134.76 L433.10,134.99 L433.60,135.22 L434.10,135.45 L434.60,135.69 L435.10,135.92 L435.60,136.16 L436.10,136.40 L436.60,136.64 L437.10,136.88 L437.60,137.12 L438.10,137.37 L438.60,137.61 L439.10,137.86 L439.60,138.10 L440.10,138.35 L440.60,138.60 L441.10,138.85 L441.60,139.11 L442.10,139.36 L442.60,139.62 L443.10,139.88 L443.60,140.15 L444.10,140.41 L444.60,140.68 L445.10,140.95 L445.60,141.23 L446.10,141.50 L446.60,141.78 L447.10,142.06 L447.60,142.34 L448.10,142.63 L448.60,142.92 L449.10,143.21 L449.60,143.50 L450.10,143.79 L450.60,144.09 L451.10,144.39 L451.60,144.69 L452.10,145.00 L452.60,145.30 L453.10,145.61 L453.60,145.92 L454.10,146.23 L454.60,146.55 L455.10,146.86 L455.60,147.19 L456.10,147.51 L456.60,147.84 L457.10,148.18 L457.60,148.52 L458.10,148.87 L458.60,149.22 L459.10,149.57 L459.60,149.93 L460.10,150.29 L460.60,150.66 L461.10,151.02 L461.60,151.39 L462.10,151.76 L462.60,152.14 L462.95,152.40" stroke="#00fa00"/>
<path d="M111.80,247.70 L112.30,247.47 L112.80,247.24 L113.30,247.00 L113.80,246.77 L114.30,246.54 L114.80,246.31 L115.30,246.07 L115.80,245.84 L116.30,245.61 L116.80,245.38 L117.30,245.14 L117.80,244.91 L118.30,244.68 L118.80,244.44 L119.30,244.21 L119.80,243.98 L120.30,243.75 L120.80,243.51 L121.30,243.28 L121.80,243.05 L122.30,242.81 L122.80,242.58 L123.30,242.34 L123.80,242.11 L124.30,241.88 L124.80,241.64 L125.30,241.41 L125.80,241.18 L126.30,240.94 L126.80,240.71 L127.30,240.47 L127.80,240.24 L128.30,240.01 L128.80,239.77 L129.30,239.54 L129.80,239.30 L130.30,239.07 L130.80,238.83 L131.30,238.60 L131.80,238.36 L132.30,238.13 L132.80,237.89 L133.30,237.66 L133.80,237.42 L134.30,237.19 L134.80,236.95 L135.30,236.72 L135.80,236.48 L136.30,236.25 L136.80,236.01 L137.30,235.77 L137.80,235.54 L138.30,235.30 L138.80,235.07 L139.30,234.83 L139.80,234.59 L140.30,234.36 L140.80,234.12 L141.30,233.89 L141.80,233.65 L142.30,233.41 L142.80,233.17 L143.30,232.94 L143.80,232.70 L144.30,232.46 L144.80,232.23 L145.30,231.99 L145.80,231.75 L146.30,231.51 L146.80,231.27 L147.30,231.04 L147.80,230.80 L148.30,230.56 L148.80,230.32 L149.30,230.08 L149.80,229.84 L150.30,229.60 L150.80,229.37 L151.30,229.13 L151.80,228.89 L152.30,228.65 L152.80,228.41 L153.30,228.17 L153.80,227.93 L154.30,227.69 L154.80,227.45 L155.30,227.21 L155.80,226.97 L156.30,226.73 L156.80,226.49 L157.30,226.25 L157.80,226.01 L158.30,225.78 L158.80,225.54 L159.30,225.30 L159.80,225.06 L160.30,224.82 L160.80,224.58 L161.30,224.34 L161.80,224.10 L162.30,223.86 L162.80,223.62 L163.30,223.38 L163.80,223.14 L164.30,222.90 L164.80,222.66 L165.30,222.42 L165.80,222.18 L166.30,221.94 L166.80,221.70 L167.30,221.46 L167.80,221.22 L168.30,220.98 L168.80,220.74 L169.30,220.50 L169.80,220.26 L170.30,220.02 L170.80,219.78 L171.30,219.55 L171.80,219.31 L172.30,219.07 L172.80,218.83 L173.30,218.59 L173.80,218.35 L174.30,218.11 L174.80,217.87 L175.30,217.64 L175.80,217.40 L176.30,217.16 L176.80,216.92 L177.30,216.68 L177.80,216.45 L178.30,216.21 L178.80,215.97 L179.30,215.73 L179.80,215.49 L180.30,215.26 L180.80,215.02 L181.30,214.78 L181.80,214.55 L182.30,214.31 L182.80,214.07 L183.30,213.84 L183.80,213.60 L184.30,213.37 L184.80,213.13 L185.30,212.90 L185.80,212.66 L186.30,212.43 L186.80,212.19 L187.30,211.96 L187.80,211.72 L188.30,211.49 L188.80,211.25 L189.30,211.02 L189.80,210.78 L190.30,210.55 L190.80,210.31 L191.30,210.08 L191.80,209.84 L192.30,209.61 L192.80,209.37 L193.30,209.14 L193.80,208.90 L194.30,208.67 L194.80,208.43 L195.30,208.20 L195.80,207.96 L196.30,207.73 L196.80,207.49 L197.30,207.26 L197.80,207.02 L198.30,206.78 L198.80,206.55 L199.30,206.31 L199.80,206.08 L200.30,205.84 L200.80,205.60 L201.30,205.36 L201.80,205.13 L202.30,204.89 L202.80,204.65 L203.30,204.41 L203.80,204.17 L204.30,203.93 L204.80,203.70 L205.30,203.46 L205.80,203.22 L206.30,202.98 L206.80,202.74 L207.30,202.50 L207.80,202.26 L208.30,202.02 L208.80,201.78 L209.30,201.55 L209.80,201.31 L210.30,201.07 L210.80,200.83 L211.30,200.59 L211.80,200.36 L212.30,200.12 L212.80,199.88 L213.30,199.64 L213.80,199.40 L214.30,199.16 L214.80,198.92 L215.30,198.69 L215.80,198.45 L216.30,198.21 L216.80,197.97 L217.30,197.73 L217.80,197.49 L218.30,197.25 L218.80,197.01 L219.30,196.77 L219.80,196.53 L220.30,196.29 L220.80,196.05 L221.30,195.81 L221.80,195.56 L222.30,195.32 L222.80,195.08 L223.30,194.84 L223.80,194.59 L224.30,194.35 L224.80,194.11 L225.30,193.86 L225.80,193.62 L226.30,193.37 L226.80,193.12 L227.30,192.88 L227.80,192.63 L228.30,192.38 L228.80,192.13 L229.30,191.89 L229.80,191.64 L230.30,191.39 L230.80,191.13 L231.30,190.88 L231.80,190.63 L232.30,190.38 L232.80,190.12 L233.30,189.87 L233.80,189.62 L234.30,189.36 L234.80,189.10 L235.30,188.85 L235.80,188.59 L236.30,188.33 L236.80,188.07 L237.30,187.81 L237.80,187.55 L238.30,187.29 L238.80,187.03 L239.30,186.77 L239.80,186.50 L240.30,186.24 L240.80,185.98 L241.30,185.71 L241.80,185.45 L242.30,185.18 L242.80,184.92 L243.30,184.65 L243.80,184.38 L244.30,184.11 L244.80,183.85 L245.30,183.58 L245.80,183.31 L246.30,183.04 L246.80,182.77 L247.30,182.49 L247.80,182.22 L248.30,181.95 L248.80,181.68 L249.30,181.40 L249.80,181.13 L250.30,180.85 L250.80,180.58 L251.30,180.30 L251.80,180.03 L252.30,179.75 L252.80,179.47 L253.30,179.19 L253.80,178.91 L254.30,178.63 L254.80,178.35 L255.30,178.07 L255.80,177.79 L256.30,177.51 L256.80,177.22 L257.30,176.94 L257.80,176.66 L258.30,176.37 L258.80,176.09 L259.30,175.80 L259.80,175.51 L260.30,175.23 L260.80,174.94 L261.30,174.65 L261.80,174.36 L262.30,174.06 L262.80,173.77 L263.30,173.47 L263.80,173.18 L264.30,172.88 L264.80,172.58 L265.30,172.28 L265.80,171.98 L266.30,171.68 L266.80,171.38 L267.30,171.07 L267.80,170.77 L268.30,170.47 L268.80,170.16 L269.30,169.86 L269.80,169.55 L270.30,169.24 L270.80,168.94 L271.30,168.63 L271.80,168.32 L272.30,168.02 L272.80,167.71 L273.30,167.40 L273.80,167.09 L274.30,166.78 L274.80,166.48 L275.30,166.17 L275.80,165.86 L276.30,165.56 L276.80,165.25 L277.30,164.94 L277.80,164.64 L278.30,164.33 L278.80,164.03 L279.30,163.72 L279.80,163.42 L280.30,163.12 L280.80,162.82 L281.30,162.51 L281.80,162.21 L282.30,161.91 L282.80,161.60 L283.30,161.30 L283.80,161.00 L284.30,160.69 L284.80,160.39 L285.30,160.08 L285.80,159.78 L286.30,159.48 L286.80,159.17 L287.30,158.87 L287.80,158.57 L288.30,158.26 L288.80,157.96 L289.30,157.65 L289.80,157.35 L290.30,157.05 L290.80,156.74 L291.30,156.44 L291.80,156.14 L292.30,155.83 L292.80,155.53 L293.30,155.23 L293.80,154.93 L294.30,154.62 L294.80,154.32 L295.30,154.02 L295.80,153.72 L296.30,153.42 L296.80,153.12 L297.30,152.82 L297.80,152.52 L298.30,152.22 L298.80,151.92 L299.30,151.62 L299.80,151.32 L300.30,151.02 L300.80,150.72 L301.30,150.42 L301.80,150.12 L302.30,149.82 L302.80,149.51 L303.30,149.21 L303.80,148.91 L304.30,148.61 L304.80,148.31 L305.30,148.01 L305.80,147.71 L306.30,147.41 L306.80,147.12 L307.30,146.83 L307.80,146.54 L308.30,146.25 L308.80,145.97 L309.30,145.69 L309.80,145.41 L310.30,145.14 L310.80,144.86 L311.30,144.59 L311.80,144.32 L312.30,144.05 L312.80,143.78 L313.30,143.51 L313.80,143.25 L314.30,142.98 L314.80,142.72 L315.30,142.46 L315.80,142.21 L316.30,141.96 L316.80,141.71 L317.30,141.46 L317.80,141.22 L318.30,140.98 L318.80,140.74 L319.30,140.51 L319.80,140.29 L320.30,140.07 L320.80,139.85 L321.30,139.64 L321.80,139.43 L322.30,139.22 L322.80,139.01 L323.30,138.81 L323.80,138.61 L324.30,138.41 L324.80,138.22 L325.30,138.03 L325.80,137.84 L326.30,137.65 L326.80,137.46 L327.30,137.27 L327.80,137.09 L328.30,136.91 L328.80,136.73 L329.30,136.55 L329.80,136.37 L330.30,136.19 L330.80,136.01 L331.30,135.83 L331.80,135.65 L332.30,135.48 L332.80,135.30 L333.30,135.12 L333.80,134.95 L334.30,134.79 L334.80,134.63 L335.30,134.47 L335.80,134.32 L336.30,134.18 L336.80,134.05 L337.30,133.92 L337.80,133.79 L338.30,133.66 L338.80,133.52 L339.30,133.39 L339.80,133.26 L340.30,133.15 L340.80,133.04 L341.30,132.95 L341.80,132.88 L342.30,132.83 L342.80,132.80 L343.30,132.80 L343.80,132.82 L344.30,132.86 L344.80,132.92 L345.30,132.98 L345.80,133.06 L346.30,133.15 L346.80,133.25 L347.30,133.35 L347.80,133.46 L348.30,133.58 L348.80,133.70 L349.30,133.85 L349.80,134.03 L350.30,134.24 L350.80,134.48 L351.30,134.74 L351.80,135.04 L352.30,135.37 L352.80,135.81 L353.30,136.37 L353.80,137.01 L354.30,137.71 L354.80,138.45 L355.30,139.28 L355.80,140.26 L356.30,141.46 L356.80,143.00 L357.09,144.01 L357.33,145.02 L357.54,146.03 L357.72,147.04 L357.87,148.05 L357.99,149.06 L358.10,150.07 L358.19,151.09 L358.27,152.10 L358.33,153.11 L358.39,154.12 L358.44,155.13 L358.48,156.14 L358.51,157.15 L358.54,158.16 L358.56,159.17 L358.58,160.18 L358.60,161.19 L358.62,162.20 L358.63,163.21 L358.64,164.22 L358.65,165.24 L358.70,166.20" stroke="#000000" stroke-dasharray="5.9 5.2"/>
<path d="M358.70,166.20 L358.75,165.24 L358.76,164.22 L358.77,163.21 L358.78,162.20 L358.80,161.19 L358.82,160.18 L358.84,159.17 L358.86,158.16 L358.89,157.15 L358.92,156.14 L358.96,155.13 L359.01,154.12 L359.07,153.11 L359.13,152.10 L359.21,151.09 L359.30,150.07 L359.41,149.06 L359.53,148.05 L359.68,147.04 L359.86,146.03 L360.07,145.02 L360.31,144.01 L361.10,139.90 L361.60,137.52 L362.10,136.16 L362.60,135.11 L363.10,134.27 L363.60,133.55 L364.10,132.86 L364.60,132.21 L365.10,131.60 L365.60,131.03 L366.10,130.50 L366.60,130.01 L367.10,129.55 L367.60,129.11 L368.10,128.69 L368.60,128.29 L369.10,127.90 L369.60,127.52 L370.10,127.16 L370.60,126.82 L371.10,126.49 L371.60,126.18 L372.10,125.88 L372.60,125.61 L373.10,125.35 L373.60,125.10 L374.10,124.86 L374.60,124.62 L375.10,124.39 L375.60,124.18 L376.10,123.98 L376.60,123.80 L377.10,123.63 L377.60,123.49 L378.10,123.38 L378.60,123.27 L379.10,123.17 L379.60,123.08 L380.10,122.99 L380.60,122.90 L381.10,122.82 L381.60,122.75 L382.10,122.68 L382.60,122.62 L383.10,122.56 L383.60,122.51 L384.10,122.46 L384.60,122.43 L385.10,122.39 L385.60,122.36 L386.10,122.33 L386.60,122.31 L387.10,122.28 L387.60,122.26 L388.10,122.24 L388.60,122.22 L389.10,122.21 L389.60,122.20 L390.10,122.20 L390.60,122.21 L391.10,122.23 L391.60,122.26 L392.10,122.30 L392.60,122.36 L393.10,122.42 L393.60,122.48 L394.10,122.56 L394.60,122.64 L395.10,122.73 L395.60,122.82 L396.10,122.91 L396.60,123.01 L397.10,123.11 L397.60,123.22 L398.10,123.32 L398.60,123.42 L399.10,123.52 L399.60,123.62 L400.10,123.72 L400.60,123.82 L401.10,123.92 L401.60,124.03 L402.10,124.13 L402.60,124.25 L403.10,124.36 L403.60,124.48 L404.10,124.60 L404.60,124.73 L405.10,124.86 L405.60,124.99 L406.10,125.12 L406.60,125.26 L407.10,125.40 L407.60,125.54 L408.10,125.68 L408.60,125.83 L409.10,125.98 L409.60,126.13 L410.10,126.28 L410.60,126.44 L411.10,126.59 L411.60,126.75 L412.10,126.91 L412.60,127.07 L413.10,127.24 L413.60,127.40 L414.10,127.57 L414.60,127.73 L415.10,127.90 L415.60,128.07 L416.10,128.24 L416.60,128.42 L417.10,128.59 L417.60,128.76 L418.10,128.93 L418.60,129.11 L419.10,129.28 L419.60,129.46 L420.10,129.64 L420.60,129.81 L421.10,129.99 L421.60,130.18 L422.10,130.36 L422.60,130.55 L423.10,130.74 L423.60,130.93 L424.10,131.13 L424.60,131.32 L425.10,131.52 L425.60,131.73 L426.10,131.93 L426.60,132.14 L427.10,132.34 L427.60,132.55 L428.10,132.77 L428.60,132.98 L429.10,133.20 L429.60,133.42 L430.10,133.63 L430.60,133.86 L431.10,134.08 L431.60,134.30 L432.10,134.53 L432.60,134.76 L433.10,134.99 L433.60,135.22 L434.10,135.45 L434.60,135.69 L435.10,135.92 L435.60,136.16 L436.10,136.40 L436.60,136.64 L437.10,136.88 L437.60,137.12 L438.10,137.37 L438.60,137.61 L439.10,137.86 L439.60,138.10 L440.10,138.35 L440.60,138.60 L441.10,138.85 L441.60,139.11 L442.10,139.36 L442.60,139.62 L443.10,139.88 L443.60,140.15 L444.10,140.41 L444.60,140.68 L445.10,140.95 L445.60,141.23 L446.10,141.50 L446.60,141.78 L447.10,142.06 L447.60,142.34 L448.10,142.63 L448.60,142.92 L449.10,143.21 L449.60,143.50 L450.10,143.79 L450.60,144.09 L451.10,144.39 L451.60,144.69 L452.10,145.00 L452.60,145.30 L453.10,145.61 L453.60,145.92 L454.10,146.23 L454.60,146.55 L455.10,146.86 L455.60,147.19 L456.10,147.51 L456.60,147.84 L457.10,148.18 L457.60,148.52 L458.10,148.87 L458.60,149.22 L459.10,149.57 L459.60,149.93 L460.10,150.29 L460.60,150.66 L461.10,151.02 L461.60,151.39 L462.10,151.76 L462.60,152.14 L462.95,152.40" stroke="#000000" stroke-dasharray="5.9 5.2" stroke-dashoffset="1.07"/>
</g>
<rect x="103.4" y="21.25" width="367.1" height="226.45" fill="none" stroke="#969696" stroke-width="1.25"/>
<path d="M110.45,247.7 v-3.6 M110.45,21.25 v3.6 M213.20,247.7 v-3.6 M213.20,21.25 v3.6 M257.45,247.7 v-3.6 M257.45,21.25 v3.6 M360.20,247.7 v-3.6 M360.20,21.25 v3.6 M404.45,247.7 v-3.6 M404.45,21.25 v3.6 M154.70,247.7 v-2.1 M154.70,21.25 v2.1 M180.59,247.7 v-2.1 M180.59,21.25 v2.1 M198.95,247.7 v-2.1 M198.95,21.25 v2.1 M224.84,247.7 v-2.1 M224.84,21.25 v2.1 M234.68,247.7 v-2.1 M234.68,21.25 v2.1 M243.20,247.7 v-2.1 M243.20,21.25 v2.1 M250.72,247.7 v-2.1 M250.72,21.25 v2.1 M301.70,247.7 v-2.1 M301.70,21.25 v2.1 M327.59,247.7 v-2.1 M327.59,21.25 v2.1 M345.95,247.7 v-2.1 M345.95,21.25 v2.1 M371.84,247.7 v-2.1 M371.84,21.25 v2.1 M381.68,247.7 v-2.1 M381.68,21.25 v2.1 M390.20,247.7 v-2.1 M390.20,21.25 v2.1 M397.72,247.7 v-2.1 M397.72,21.25 v2.1 M448.70,247.7 v-2.1 M448.70,21.25 v2.1 M103.4,21.30 h3.6 M470.5,21.30 h-3.6 M103.4,35.45 h2.1 M470.5,35.45 h-2.1 M103.4,49.60 h2.1 M470.5,49.60 h-2.1 M103.4,63.75 h3.6 M470.5,63.75 h-3.6 M103.4,77.90 h2.1 M470.5,77.90 h-2.1 M103.4,92.05 h2.1 M470.5,92.05 h-2.1 M103.4,106.20 h3.6 M470.5,106.20 h-3.6 M103.4,120.35 h2.1 M470.5,120.35 h-2.1 M103.4,134.50 h2.1 M470.5,134.50 h-2.1 M103.4,148.65 h3.6 M470.5,148.65 h-3.6 M103.4,162.80 h2.1 M470.5,162.80 h-2.1 M103.4,176.95 h2.1 M470.5,176.95 h-2.1 M103.4,191.10 h3.6 M470.5,191.10 h-3.6 M103.4,205.25 h2.1 M470.5,205.25 h-2.1 M103.4,219.40 h2.1 M470.5,219.40 h-2.1 M103.4,233.55 h3.6 M470.5,233.55 h-3.6 M103.4,247.70 h2.1 M470.5,247.70 h-2.1" fill="none" stroke="#5a5a5a" stroke-width="0.9"/>
<text transform="translate(96.40,28.10) scale(1,1.045)" text-anchor="end" font-family="'Liberation Sans', sans-serif" font-size="18.7" fill="#000" stroke="#000" stroke-width="0.2">1</text>
<text transform="translate(96.40,70.78) scale(1,1.045)" text-anchor="end" font-family="'Liberation Sans', sans-serif" font-size="18.7" fill="#000" stroke="#000" stroke-width="0.2">0.001</text>
<text transform="translate(97.40,113.36) scale(1,1.045)" text-anchor="end" font-family="'Liberation Sans', sans-serif" font-size="18.7" fill="#000" stroke="#000" stroke-width="0.2">10<tspan font-size="12.8" dx="0" dy="-8.33">−6</tspan></text>
<text transform="translate(97.40,156.04) scale(1,1.045)" text-anchor="end" font-family="'Liberation Sans', sans-serif" font-size="18.7" fill="#000" stroke="#000" stroke-width="0.2">10<tspan font-size="12.8" dx="0" dy="-8.33">−9</tspan></text>
<text transform="translate(97.40,198.72) scale(1,1.045)" text-anchor="end" font-family="'Liberation Sans', sans-serif" font-size="18.7" fill="#000" stroke="#000" stroke-width="0.2">10<tspan font-size="12.8" dx="0" dy="-8.33">−12</tspan></text>
<text transform="translate(97.40,241.41) scale(1,1.045)" text-anchor="end" font-family="'Liberation Sans', sans-serif" font-size="18.7" fill="#000" stroke="#000" stroke-width="0.2">10<tspan font-size="12.8" dx="0" dy="-8.33">−15</tspan></text>
<text transform="translate(110.45,271.50) scale(1,1.045)" text-anchor="middle" font-family="'Liberation Sans', sans-serif" font-size="18.7" fill="#000" stroke="#000" stroke-width="0.2">0.1</text>
<text transform="translate(213.20,271.50) scale(1,1.045)" text-anchor="middle" font-family="'Liberation Sans', sans-serif" font-size="18.7" fill="#000" stroke="#000" stroke-width="0.2">0.5</text>
<text transform="translate(257.45,271.50) scale(1,1.045)" text-anchor="middle" font-family="'Liberation Sans', sans-serif" font-size="18.7" fill="#000" stroke="#000" stroke-width="0.2">1</text>
<text transform="translate(360.20,271.50) scale(1,1.045)" text-anchor="middle" font-family="'Liberation Sans', sans-serif" font-size="18.7" fill="#000" stroke="#000" stroke-width="0.2">5</text>
<text transform="translate(404.45,271.50) scale(1,1.045)" text-anchor="middle" font-family="'Liberation Sans', sans-serif" font-size="18.7" fill="#000" stroke="#000" stroke-width="0.2">10</text>
<text transform="translate(37.80,134.50) rotate(-90) scale(1,1.045)" text-anchor="middle" font-family="'Liberation Sans', sans-serif" font-size="18.7" fill="#000" stroke="#000" stroke-width="0.2">Y</text>
<text transform="translate(261.60,303.20) scale(1,1.045)" text-anchor="start" font-family="'Liberation Sans', sans-serif" font-size="18.7" fill="#000" stroke="#000" stroke-width="0.2"><tspan font-style="italic">m</tspan><tspan font-size="12.8" dx="0.8" dy="3.25" font-style="italic">N</tspan><tspan font-size="12.8" dx="-0.6" dy="3.54">2</tspan><tspan dx="2.2" dy="-6.79">/T</tspan></text>
<path d="M526.7,22.0 H578.9" fill="none" stroke="#ff8000" stroke-width="2.1" stroke-linecap="square" stroke-dasharray="6.2 4.9"/>
<text transform="translate(592.80,27.55) scale(1,1.045)" text-anchor="start" font-family="'Liberation Sans', sans-serif" font-size="18.7" fill="#000" stroke="#000" stroke-width="0.2"><tspan font-style="italic">Y</tspan><tspan font-size="12.8" dx="-1.4" dy="3.25" font-style="italic">N</tspan><tspan font-size="12.8" dx="1.9" dy="-10.91">EQ</tspan></text>
<path d="M526.7,57.0 H578.9" fill="none" stroke="#ff8000" stroke-width="2.1" stroke-linecap="square"/>
<text transform="translate(592.80,62.55) scale(1,1.045)" text-anchor="start" font-family="'Liberation Sans', sans-serif" font-size="18.7" fill="#000" stroke="#000" stroke-width="0.2"><tspan font-style="italic">Y</tspan><tspan font-size="12.8" dx="-1.4" dy="3.25" font-style="italic">N</tspan></text>
<path d="M526.7,92.05 H578.9" fill="none" stroke="#0000ff" stroke-width="2.1" stroke-linecap="square" stroke-dasharray="6.2 4.9"/>
<text transform="translate(592.80,97.60) scale(1,1.045)" text-anchor="start" font-family="'Liberation Sans', sans-serif" font-size="18.7" fill="#000" stroke="#000" stroke-width="0.2"><tspan font-style="italic">Y</tspan><tspan font-size="12.8" dx="-1.4" dy="3.25">BL3</tspan></text>
<path d="M526.7,127.0 H578.9" fill="none" stroke="#007aff" stroke-width="2.1" stroke-linecap="square" stroke-dasharray="2.05 4.9"/>
<text transform="translate(592.80,132.55) scale(1,1.045)" text-anchor="start" font-family="'Liberation Sans', sans-serif" font-size="18.7" fill="#000" stroke="#000" stroke-width="0.2"><tspan font-style="italic">Y</tspan><tspan font-size="12.8" dx="-1.4" dy="3.25">BL2</tspan></text>
<path d="M526.7,162.05 H578.9" fill="none" stroke="#00ffff" stroke-width="2.1" stroke-linecap="square" stroke-dasharray="2.1 4.9 6.2 4.9"/>
<text transform="translate(592.80,167.60) scale(1,1.045)" text-anchor="start" font-family="'Liberation Sans', sans-serif" font-size="18.7" fill="#000" stroke="#000" stroke-width="0.2"><tspan font-style="italic">Y</tspan><tspan font-size="12.8" dx="-1.4" dy="3.25">BL1</tspan></text>
<path d="M526.7,200.9 H578.9" fill="none" stroke="#00fa00" stroke-width="2.1" stroke-linecap="square" stroke-dasharray="6.2 4.9"/>
<text transform="translate(592.80,206.45) scale(1,1.045)" text-anchor="start" font-family="'Liberation Sans', sans-serif" font-size="18.7" fill="#000" stroke="#000" stroke-width="0.2"><tspan font-style="italic">Y</tspan><tspan font-size="12.8" dx="-1.4" dy="3.25" font-style="italic">S</tspan><tspan font-size="12.8" dx="1.9" dy="-10.91">EQ</tspan></text>
<path d="M526.7,236.0 H578.9" fill="none" stroke="#00fa00" stroke-width="2.1" stroke-linecap="square"/>
<text transform="translate(592.80,241.55) scale(1,1.045)" text-anchor="start" font-family="'Liberation Sans', sans-serif" font-size="18.7" fill="#000" stroke="#000" stroke-width="0.2"><tspan font-style="italic">Y</tspan><tspan font-size="12.8" dx="-1.4" dy="3.25" font-style="italic">S</tspan></text>
<path d="M526.7,271.0 H578.9" fill="none" stroke="#000000" stroke-width="2.1" stroke-linecap="square" stroke-dasharray="6.2 4.9"/>
<text transform="translate(592.80,276.55) scale(1,1.045)" text-anchor="start" font-family="'Liberation Sans', sans-serif" font-size="18.7" fill="#000" stroke="#000" stroke-width="0.2"><tspan font-style="italic">Y</tspan><tspan font-size="12.8" dx="-1.4" dy="3.25">BLtotal</tspan></text>
</svg>
</body></html>
